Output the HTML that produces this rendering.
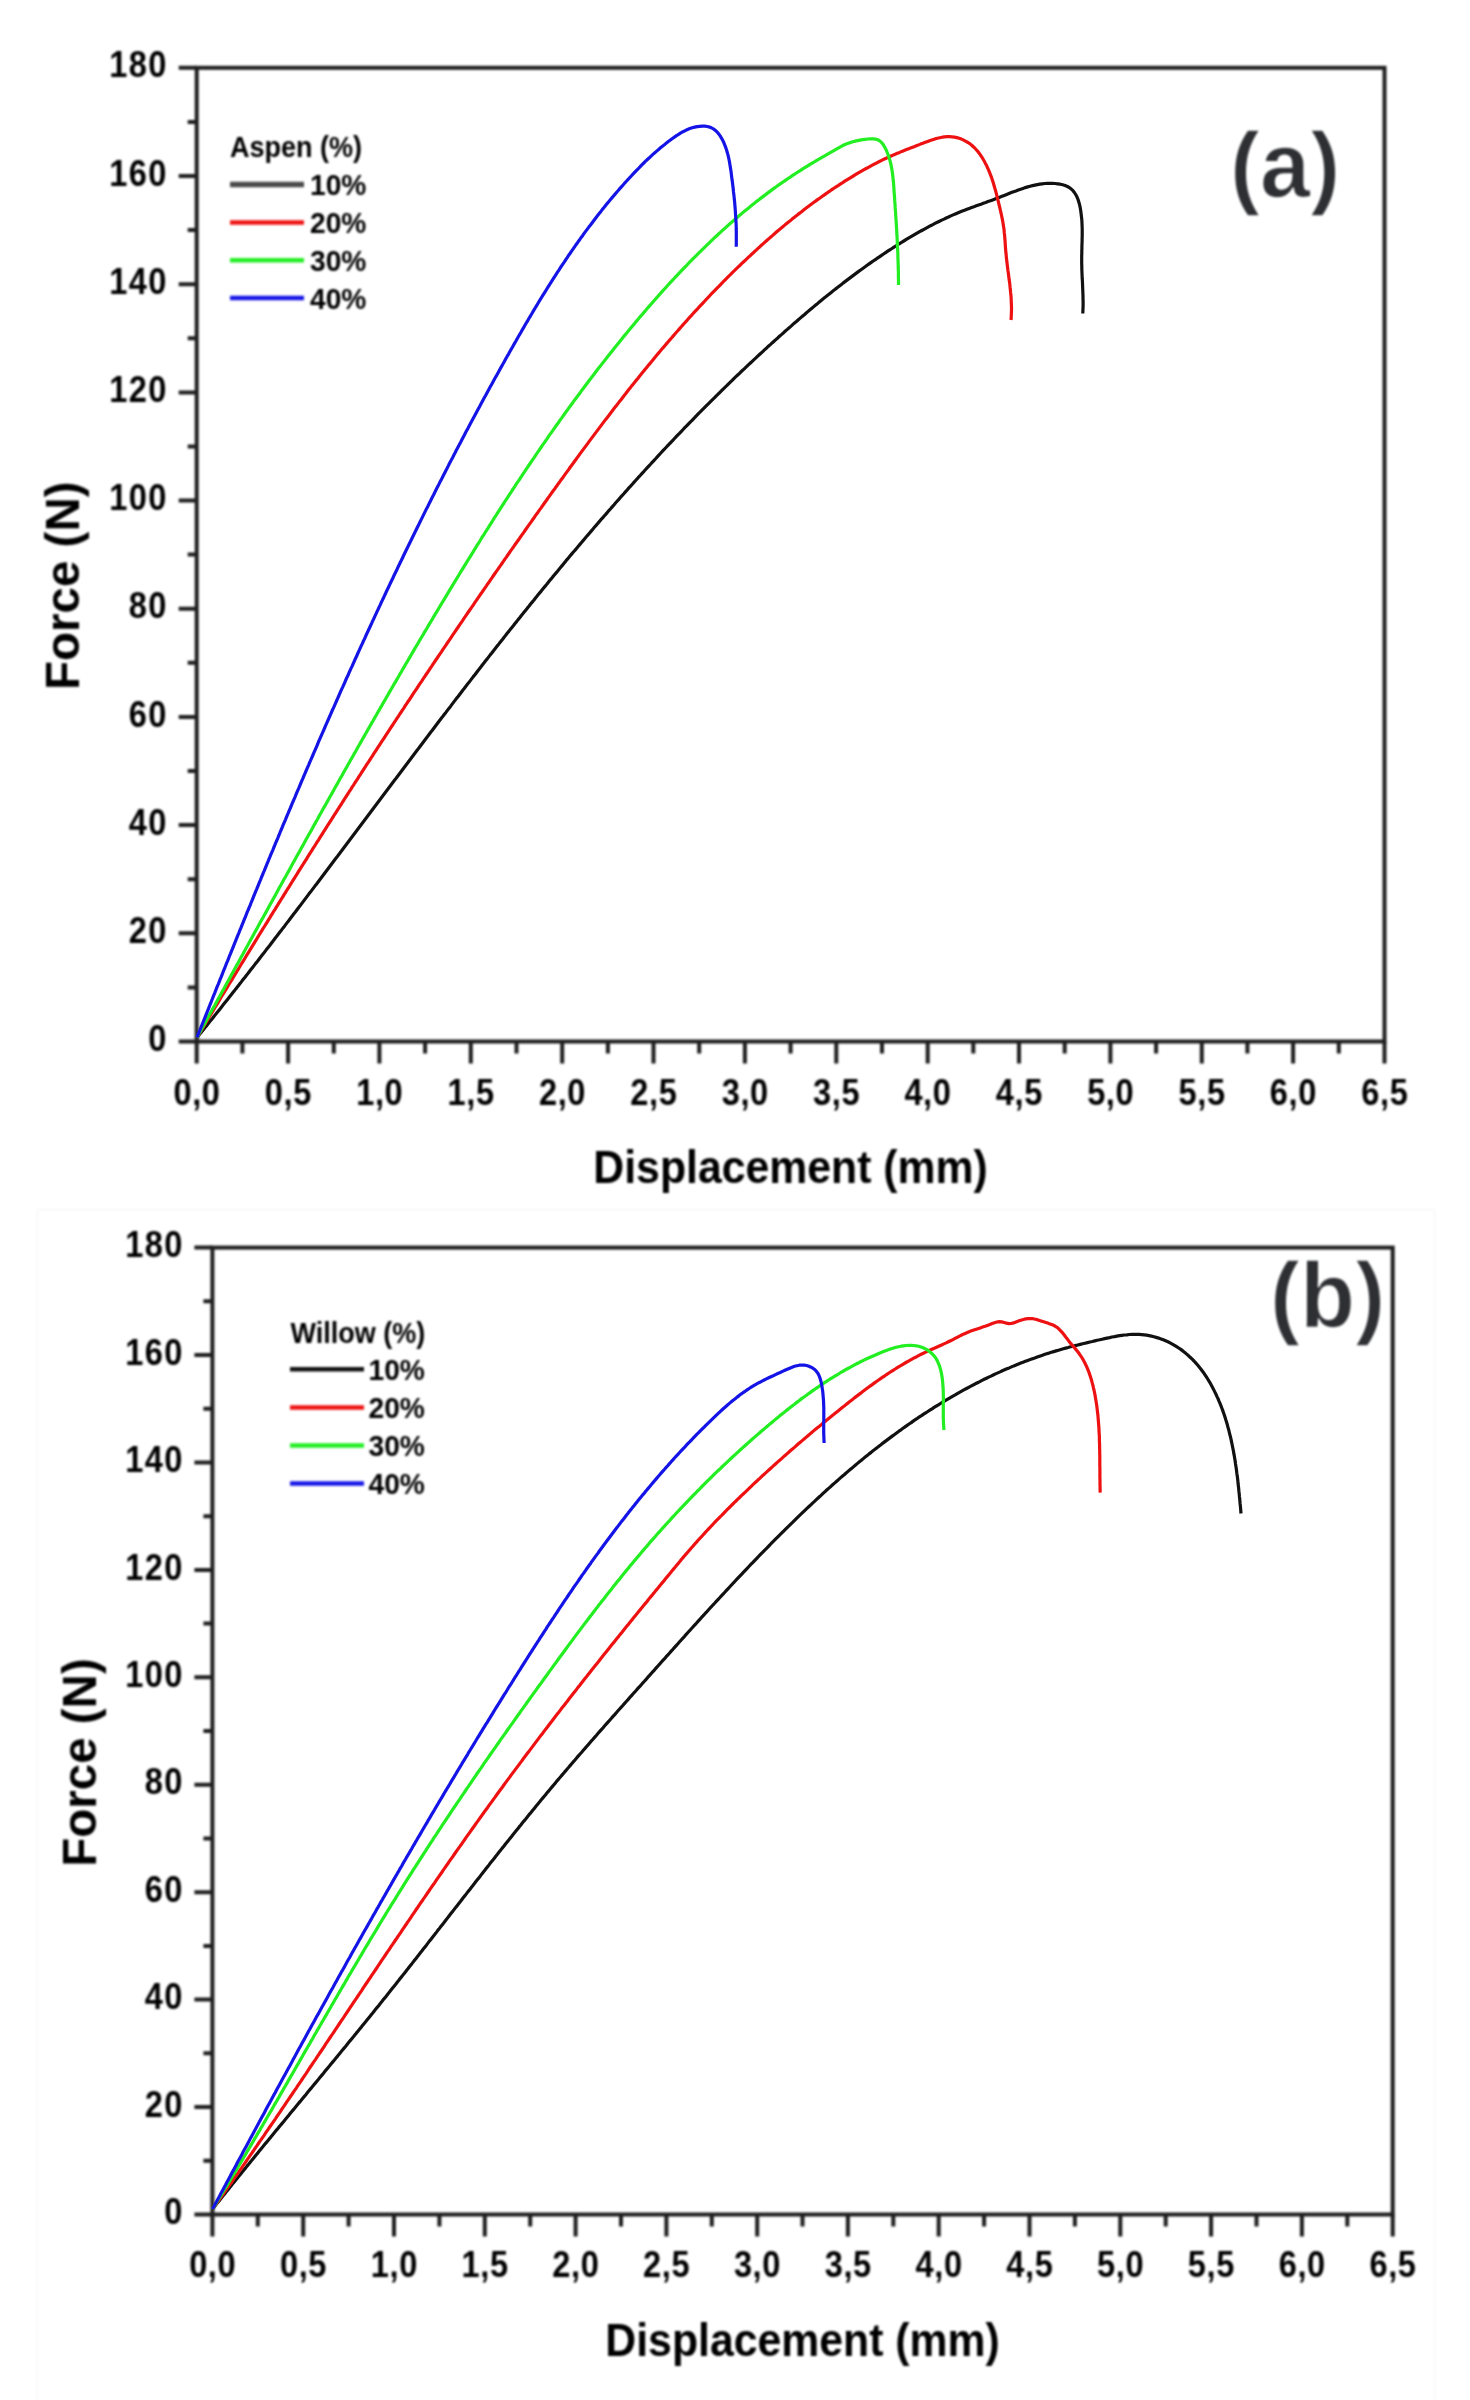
<!DOCTYPE html>
<html><head><meta charset="utf-8"><style>
html,body{margin:0;padding:0;background:#fff;}
body{width:1470px;height:2400px;overflow:hidden;position:relative;font-family:"Liberation Sans", sans-serif;}
svg{position:absolute;left:0;top:0;}
</style></head><body>
<svg width="1470" height="2400" viewBox="0 0 1470 2400" xmlns="http://www.w3.org/2000/svg" font-family='"Liberation Sans", sans-serif'>
<defs><filter id="soft" color-interpolation-filters="sRGB" x="0" y="0" width="1470" height="2400" filterUnits="userSpaceOnUse"><feGaussianBlur stdDeviation="0.8"/></filter></defs>
<g filter="url(#soft)">
<rect x="0" y="0" width="1470" height="2400" fill="#fff"/>
<rect x="37.5" y="1209.5" width="1397" height="1200" fill="none" stroke="#f4f4f4" stroke-width="1"/>
<rect x="196.7" y="67.8" width="1187.8" height="973.7" fill="none" stroke="#1e1e1e" stroke-width="4.0"/>
<path d="M178.7,1041.5H196.7M187.7,987.4H196.7M178.7,933.3H196.7M187.7,879.2H196.7M178.7,825.1H196.7M187.7,771.0H196.7M178.7,716.9H196.7M187.7,662.8H196.7M178.7,608.7H196.7M187.7,554.6H196.7M178.7,500.6H196.7M187.7,446.5H196.7M178.7,392.4H196.7M187.7,338.3H196.7M178.7,284.2H196.7M187.7,230.1H196.7M178.7,176.0H196.7M187.7,121.9H196.7M178.7,67.8H196.7M196.7,1041.5V1063.5M242.4,1041.5V1053.5M288.1,1041.5V1063.5M333.8,1041.5V1053.5M379.4,1041.5V1063.5M425.1,1041.5V1053.5M470.8,1041.5V1063.5M516.5,1041.5V1053.5M562.2,1041.5V1063.5M607.9,1041.5V1053.5M653.5,1041.5V1063.5M699.2,1041.5V1053.5M744.9,1041.5V1063.5M790.6,1041.5V1053.5M836.3,1041.5V1063.5M882.0,1041.5V1053.5M927.7,1041.5V1063.5M973.3,1041.5V1053.5M1019.0,1041.5V1063.5M1064.7,1041.5V1053.5M1110.4,1041.5V1063.5M1156.1,1041.5V1053.5M1201.8,1041.5V1063.5M1247.4,1041.5V1053.5M1293.1,1041.5V1063.5M1338.8,1041.5V1053.5M1384.5,1041.5V1063.5" stroke="#1e1e1e" stroke-width="4.0" fill="none"/>
<g font-size="37" font-weight="bold" fill="#000"><text transform="translate(157.27,1051.10) scale(0.88,1)" text-anchor="middle">0</text><text transform="translate(137.81,942.91) scale(0.88,1)" text-anchor="middle">2</text><text transform="translate(157.27,942.91) scale(0.88,1)" text-anchor="middle">0</text><text transform="translate(137.81,834.72) scale(0.88,1)" text-anchor="middle">4</text><text transform="translate(157.27,834.72) scale(0.88,1)" text-anchor="middle">0</text><text transform="translate(137.81,726.53) scale(0.88,1)" text-anchor="middle">6</text><text transform="translate(157.27,726.53) scale(0.88,1)" text-anchor="middle">0</text><text transform="translate(137.81,618.34) scale(0.88,1)" text-anchor="middle">8</text><text transform="translate(157.27,618.34) scale(0.88,1)" text-anchor="middle">0</text><text transform="translate(118.35,510.16) scale(0.88,1)" text-anchor="middle">1</text><text transform="translate(137.81,510.16) scale(0.88,1)" text-anchor="middle">0</text><text transform="translate(157.27,510.16) scale(0.88,1)" text-anchor="middle">0</text><text transform="translate(118.35,401.97) scale(0.88,1)" text-anchor="middle">1</text><text transform="translate(137.81,401.97) scale(0.88,1)" text-anchor="middle">2</text><text transform="translate(157.27,401.97) scale(0.88,1)" text-anchor="middle">0</text><text transform="translate(118.35,293.78) scale(0.88,1)" text-anchor="middle">1</text><text transform="translate(137.81,293.78) scale(0.88,1)" text-anchor="middle">4</text><text transform="translate(157.27,293.78) scale(0.88,1)" text-anchor="middle">0</text><text transform="translate(118.35,185.59) scale(0.88,1)" text-anchor="middle">1</text><text transform="translate(137.81,185.59) scale(0.88,1)" text-anchor="middle">6</text><text transform="translate(157.27,185.59) scale(0.88,1)" text-anchor="middle">0</text><text transform="translate(118.35,77.40) scale(0.88,1)" text-anchor="middle">1</text><text transform="translate(137.81,77.40) scale(0.88,1)" text-anchor="middle">8</text><text transform="translate(157.27,77.40) scale(0.88,1)" text-anchor="middle">0</text><text transform="translate(182.49,1105.00) scale(0.88,1)" text-anchor="middle">0</text><text transform="translate(196.70,1105.00) scale(0.88,1)" text-anchor="middle">,</text><text transform="translate(210.91,1105.00) scale(0.88,1)" text-anchor="middle">0</text><text transform="translate(273.86,1105.00) scale(0.88,1)" text-anchor="middle">0</text><text transform="translate(288.07,1105.00) scale(0.88,1)" text-anchor="middle">,</text><text transform="translate(302.28,1105.00) scale(0.88,1)" text-anchor="middle">5</text><text transform="translate(365.23,1105.00) scale(0.88,1)" text-anchor="middle">1</text><text transform="translate(379.44,1105.00) scale(0.88,1)" text-anchor="middle">,</text><text transform="translate(393.64,1105.00) scale(0.88,1)" text-anchor="middle">0</text><text transform="translate(456.60,1105.00) scale(0.88,1)" text-anchor="middle">1</text><text transform="translate(470.81,1105.00) scale(0.88,1)" text-anchor="middle">,</text><text transform="translate(485.01,1105.00) scale(0.88,1)" text-anchor="middle">5</text><text transform="translate(547.97,1105.00) scale(0.88,1)" text-anchor="middle">2</text><text transform="translate(562.18,1105.00) scale(0.88,1)" text-anchor="middle">,</text><text transform="translate(576.38,1105.00) scale(0.88,1)" text-anchor="middle">0</text><text transform="translate(639.34,1105.00) scale(0.88,1)" text-anchor="middle">2</text><text transform="translate(653.55,1105.00) scale(0.88,1)" text-anchor="middle">,</text><text transform="translate(667.75,1105.00) scale(0.88,1)" text-anchor="middle">5</text><text transform="translate(730.71,1105.00) scale(0.88,1)" text-anchor="middle">3</text><text transform="translate(744.92,1105.00) scale(0.88,1)" text-anchor="middle">,</text><text transform="translate(759.12,1105.00) scale(0.88,1)" text-anchor="middle">0</text><text transform="translate(822.08,1105.00) scale(0.88,1)" text-anchor="middle">3</text><text transform="translate(836.28,1105.00) scale(0.88,1)" text-anchor="middle">,</text><text transform="translate(850.49,1105.00) scale(0.88,1)" text-anchor="middle">5</text><text transform="translate(913.45,1105.00) scale(0.88,1)" text-anchor="middle">4</text><text transform="translate(927.65,1105.00) scale(0.88,1)" text-anchor="middle">,</text><text transform="translate(941.86,1105.00) scale(0.88,1)" text-anchor="middle">0</text><text transform="translate(1004.82,1105.00) scale(0.88,1)" text-anchor="middle">4</text><text transform="translate(1019.02,1105.00) scale(0.88,1)" text-anchor="middle">,</text><text transform="translate(1033.23,1105.00) scale(0.88,1)" text-anchor="middle">5</text><text transform="translate(1096.19,1105.00) scale(0.88,1)" text-anchor="middle">5</text><text transform="translate(1110.39,1105.00) scale(0.88,1)" text-anchor="middle">,</text><text transform="translate(1124.60,1105.00) scale(0.88,1)" text-anchor="middle">0</text><text transform="translate(1187.56,1105.00) scale(0.88,1)" text-anchor="middle">5</text><text transform="translate(1201.76,1105.00) scale(0.88,1)" text-anchor="middle">,</text><text transform="translate(1215.97,1105.00) scale(0.88,1)" text-anchor="middle">5</text><text transform="translate(1278.92,1105.00) scale(0.88,1)" text-anchor="middle">6</text><text transform="translate(1293.13,1105.00) scale(0.88,1)" text-anchor="middle">,</text><text transform="translate(1307.34,1105.00) scale(0.88,1)" text-anchor="middle">0</text><text transform="translate(1370.29,1105.00) scale(0.88,1)" text-anchor="middle">6</text><text transform="translate(1384.50,1105.00) scale(0.88,1)" text-anchor="middle">,</text><text transform="translate(1398.71,1105.00) scale(0.88,1)" text-anchor="middle">5</text></g>
<text transform="translate(790.6,1183) scale(0.93,1)" text-anchor="middle" font-size="46" font-weight="bold" fill="#000" >Displacement (mm)</text>
<text transform="translate(78.5,585.7) rotate(-90) scale(1.0,1)" text-anchor="middle" font-size="47.5" font-weight="bold" fill="#000" >Force (N)</text>
<line x1="230" y1="184.6" x2="304" y2="184.6" stroke="#4a4a4a" stroke-width="5.5"/>
<text transform="translate(310,195.1) scale(0.955,1)" font-size="29.5" font-weight="bold" fill="#000" >10%</text>
<line x1="230" y1="222.4" x2="304" y2="222.4" stroke="#ee1111" stroke-width="4.5"/>
<text transform="translate(310,232.9) scale(0.955,1)" font-size="29.5" font-weight="bold" fill="#000" >20%</text>
<line x1="230" y1="260.2" x2="304" y2="260.2" stroke="#22ee22" stroke-width="4.5"/>
<text transform="translate(310,270.7) scale(0.955,1)" font-size="29.5" font-weight="bold" fill="#000" >30%</text>
<line x1="230" y1="298.0" x2="304" y2="298.0" stroke="#1414e6" stroke-width="4.5"/>
<text transform="translate(310,308.5) scale(0.955,1)" font-size="29.5" font-weight="bold" fill="#000" >40%</text>
<text transform="translate(230,157) scale(0.915,1)" font-size="29.5" font-weight="bold" fill="#000" >Aspen (%)</text>
<text transform="translate(1230,197) scale(0.97,1)" font-size="93" font-weight="bold" fill="#2e2f33" stroke="#fff" stroke-width="1.4">(a)</text>
<rect x="212.4" y="1247.6" width="1180.3" height="966.9" fill="none" stroke="#1e1e1e" stroke-width="4.0"/>
<path d="M194.4,2214.5H212.4M203.4,2160.8H212.4M194.4,2107.1H212.4M203.4,2053.3H212.4M194.4,1999.6H212.4M203.4,1945.9H212.4M194.4,1892.2H212.4M203.4,1838.5H212.4M194.4,1784.8H212.4M203.4,1731.0H212.4M194.4,1677.3H212.4M203.4,1623.6H212.4M194.4,1569.9H212.4M203.4,1516.2H212.4M194.4,1462.5H212.4M203.4,1408.8H212.4M194.4,1355.0H212.4M203.4,1301.3H212.4M194.4,1247.6H212.4M212.4,2214.5V2236.5M257.8,2214.5V2226.5M303.2,2214.5V2236.5M348.6,2214.5V2226.5M394.0,2214.5V2236.5M439.4,2214.5V2226.5M484.8,2214.5V2236.5M530.2,2214.5V2226.5M575.6,2214.5V2236.5M621.0,2214.5V2226.5M666.4,2214.5V2236.5M711.8,2214.5V2226.5M757.2,2214.5V2236.5M802.5,2214.5V2226.5M847.9,2214.5V2236.5M893.3,2214.5V2226.5M938.7,2214.5V2236.5M984.1,2214.5V2226.5M1029.5,2214.5V2236.5M1074.9,2214.5V2226.5M1120.3,2214.5V2236.5M1165.7,2214.5V2226.5M1211.1,2214.5V2236.5M1256.5,2214.5V2226.5M1301.9,2214.5V2236.5M1347.3,2214.5V2226.5M1392.7,2214.5V2236.5" stroke="#1e1e1e" stroke-width="4.0" fill="none"/>
<g font-size="37" font-weight="bold" fill="#000"><text transform="translate(173.27,2224.10) scale(0.88,1)" text-anchor="middle">0</text><text transform="translate(153.81,2116.67) scale(0.88,1)" text-anchor="middle">2</text><text transform="translate(173.27,2116.67) scale(0.88,1)" text-anchor="middle">0</text><text transform="translate(153.81,2009.23) scale(0.88,1)" text-anchor="middle">4</text><text transform="translate(173.27,2009.23) scale(0.88,1)" text-anchor="middle">0</text><text transform="translate(153.81,1901.80) scale(0.88,1)" text-anchor="middle">6</text><text transform="translate(173.27,1901.80) scale(0.88,1)" text-anchor="middle">0</text><text transform="translate(153.81,1794.37) scale(0.88,1)" text-anchor="middle">8</text><text transform="translate(173.27,1794.37) scale(0.88,1)" text-anchor="middle">0</text><text transform="translate(134.35,1686.93) scale(0.88,1)" text-anchor="middle">1</text><text transform="translate(153.81,1686.93) scale(0.88,1)" text-anchor="middle">0</text><text transform="translate(173.27,1686.93) scale(0.88,1)" text-anchor="middle">0</text><text transform="translate(134.35,1579.50) scale(0.88,1)" text-anchor="middle">1</text><text transform="translate(153.81,1579.50) scale(0.88,1)" text-anchor="middle">2</text><text transform="translate(173.27,1579.50) scale(0.88,1)" text-anchor="middle">0</text><text transform="translate(134.35,1472.07) scale(0.88,1)" text-anchor="middle">1</text><text transform="translate(153.81,1472.07) scale(0.88,1)" text-anchor="middle">4</text><text transform="translate(173.27,1472.07) scale(0.88,1)" text-anchor="middle">0</text><text transform="translate(134.35,1364.63) scale(0.88,1)" text-anchor="middle">1</text><text transform="translate(153.81,1364.63) scale(0.88,1)" text-anchor="middle">6</text><text transform="translate(173.27,1364.63) scale(0.88,1)" text-anchor="middle">0</text><text transform="translate(134.35,1257.20) scale(0.88,1)" text-anchor="middle">1</text><text transform="translate(153.81,1257.20) scale(0.88,1)" text-anchor="middle">8</text><text transform="translate(173.27,1257.20) scale(0.88,1)" text-anchor="middle">0</text><text transform="translate(198.19,2277.00) scale(0.88,1)" text-anchor="middle">0</text><text transform="translate(212.40,2277.00) scale(0.88,1)" text-anchor="middle">,</text><text transform="translate(226.61,2277.00) scale(0.88,1)" text-anchor="middle">0</text><text transform="translate(288.99,2277.00) scale(0.88,1)" text-anchor="middle">0</text><text transform="translate(303.19,2277.00) scale(0.88,1)" text-anchor="middle">,</text><text transform="translate(317.40,2277.00) scale(0.88,1)" text-anchor="middle">5</text><text transform="translate(379.78,2277.00) scale(0.88,1)" text-anchor="middle">1</text><text transform="translate(393.98,2277.00) scale(0.88,1)" text-anchor="middle">,</text><text transform="translate(408.19,2277.00) scale(0.88,1)" text-anchor="middle">0</text><text transform="translate(470.57,2277.00) scale(0.88,1)" text-anchor="middle">1</text><text transform="translate(484.78,2277.00) scale(0.88,1)" text-anchor="middle">,</text><text transform="translate(498.98,2277.00) scale(0.88,1)" text-anchor="middle">5</text><text transform="translate(561.36,2277.00) scale(0.88,1)" text-anchor="middle">2</text><text transform="translate(575.57,2277.00) scale(0.88,1)" text-anchor="middle">,</text><text transform="translate(589.78,2277.00) scale(0.88,1)" text-anchor="middle">0</text><text transform="translate(652.16,2277.00) scale(0.88,1)" text-anchor="middle">2</text><text transform="translate(666.36,2277.00) scale(0.88,1)" text-anchor="middle">,</text><text transform="translate(680.57,2277.00) scale(0.88,1)" text-anchor="middle">5</text><text transform="translate(742.95,2277.00) scale(0.88,1)" text-anchor="middle">3</text><text transform="translate(757.15,2277.00) scale(0.88,1)" text-anchor="middle">,</text><text transform="translate(771.36,2277.00) scale(0.88,1)" text-anchor="middle">0</text><text transform="translate(833.74,2277.00) scale(0.88,1)" text-anchor="middle">3</text><text transform="translate(847.95,2277.00) scale(0.88,1)" text-anchor="middle">,</text><text transform="translate(862.15,2277.00) scale(0.88,1)" text-anchor="middle">5</text><text transform="translate(924.53,2277.00) scale(0.88,1)" text-anchor="middle">4</text><text transform="translate(938.74,2277.00) scale(0.88,1)" text-anchor="middle">,</text><text transform="translate(952.94,2277.00) scale(0.88,1)" text-anchor="middle">0</text><text transform="translate(1015.32,2277.00) scale(0.88,1)" text-anchor="middle">4</text><text transform="translate(1029.53,2277.00) scale(0.88,1)" text-anchor="middle">,</text><text transform="translate(1043.74,2277.00) scale(0.88,1)" text-anchor="middle">5</text><text transform="translate(1106.12,2277.00) scale(0.88,1)" text-anchor="middle">5</text><text transform="translate(1120.32,2277.00) scale(0.88,1)" text-anchor="middle">,</text><text transform="translate(1134.53,2277.00) scale(0.88,1)" text-anchor="middle">0</text><text transform="translate(1196.91,2277.00) scale(0.88,1)" text-anchor="middle">5</text><text transform="translate(1211.12,2277.00) scale(0.88,1)" text-anchor="middle">,</text><text transform="translate(1225.32,2277.00) scale(0.88,1)" text-anchor="middle">5</text><text transform="translate(1287.70,2277.00) scale(0.88,1)" text-anchor="middle">6</text><text transform="translate(1301.91,2277.00) scale(0.88,1)" text-anchor="middle">,</text><text transform="translate(1316.11,2277.00) scale(0.88,1)" text-anchor="middle">0</text><text transform="translate(1378.49,2277.00) scale(0.88,1)" text-anchor="middle">6</text><text transform="translate(1392.70,2277.00) scale(0.88,1)" text-anchor="middle">,</text><text transform="translate(1406.91,2277.00) scale(0.88,1)" text-anchor="middle">5</text></g>
<text transform="translate(802.6,2356) scale(0.93,1)" text-anchor="middle" font-size="46" font-weight="bold" fill="#000" >Displacement (mm)</text>
<text transform="translate(95.5,1762.5) rotate(-90) scale(1.0,1)" text-anchor="middle" font-size="47.5" font-weight="bold" fill="#000" >Force (N)</text>
<line x1="290" y1="1369.3" x2="364" y2="1369.3" stroke="#111111" stroke-width="4.5"/>
<text transform="translate(368.5,1379.8) scale(0.955,1)" font-size="29.5" font-weight="bold" fill="#000" >10%</text>
<line x1="290" y1="1407.4" x2="364" y2="1407.4" stroke="#ee1111" stroke-width="4.5"/>
<text transform="translate(368.5,1417.9) scale(0.955,1)" font-size="29.5" font-weight="bold" fill="#000" >20%</text>
<line x1="290" y1="1445.5" x2="364" y2="1445.5" stroke="#22ee22" stroke-width="4.5"/>
<text transform="translate(368.5,1456.0) scale(0.955,1)" font-size="29.5" font-weight="bold" fill="#000" >30%</text>
<line x1="290" y1="1483.6" x2="364" y2="1483.6" stroke="#1414e6" stroke-width="4.5"/>
<text transform="translate(368.5,1494.1) scale(0.955,1)" font-size="29.5" font-weight="bold" fill="#000" >40%</text>
<text transform="translate(290.5,1342.6) scale(0.915,1)" font-size="29.5" font-weight="bold" fill="#000" >Willow (%)</text>
<text transform="translate(1270,1327) scale(0.97,1)" font-size="93" font-weight="bold" fill="#2e2f33" stroke="#fff" stroke-width="1.4">(b)</text>
</g>
<path d="M197.0,1037.5 L198.6,1035.6 L200.1,1033.6 L201.7,1031.7 L203.3,1029.8 L204.8,1027.8 L206.4,1025.9 L207.9,1024.0 L209.5,1022.0 L211.0,1020.1 L212.6,1018.2 L214.1,1016.2 L215.7,1014.3 L217.3,1012.3 L218.8,1010.4 L220.4,1008.4 L221.9,1006.5 L223.4,1004.6 L225.0,1002.6 L226.5,1000.7 L228.1,998.7 L229.6,996.8 L231.2,994.8 L232.7,992.8 L234.3,990.9 L235.8,988.9 L237.3,987.0 L238.9,985.0 L240.4,983.1 L241.9,981.1 L243.5,979.1 L245.0,977.2 L246.5,975.2 L248.1,973.3 L249.6,971.3 L251.1,969.3 L252.7,967.4 L254.2,965.4 L255.7,963.4 L257.3,961.5 L258.8,959.5 L260.3,957.5 L261.8,955.6 L263.4,953.6 L264.9,951.6 L266.4,949.6 L267.9,947.7 L269.5,945.7 L271.0,943.7 L272.5,941.7 L274.0,939.8 L275.5,937.8 L277.1,935.8 L278.6,933.8 L280.1,931.8 L281.6,929.9 L283.1,927.9 L284.7,925.9 L286.2,923.9 L287.7,921.9 L289.2,920.0 L290.7,918.0 L292.2,916.0 L293.7,914.0 L295.3,912.0 L296.8,910.0 L298.3,908.0 L299.8,906.1 L301.3,904.1 L302.8,902.1 L304.3,900.1 L305.8,898.1 L307.3,896.1 L308.8,894.1 L310.4,892.1 L311.9,890.1 L313.4,888.1 L314.9,886.1 L316.4,884.2 L317.9,882.2 L319.4,880.2 L320.9,878.2 L322.4,876.2 L323.9,874.2 L325.4,872.2 L326.9,870.2 L328.4,868.2 L329.9,866.2 L331.4,864.2 L332.9,862.2 L334.4,860.2 L335.9,858.2 L337.5,856.2 L339.0,854.2 L340.5,852.2 L342.0,850.2 L343.5,848.2 L345.0,846.2 L346.5,844.2 L348.0,842.2 L349.5,840.2 L351.0,838.2 L352.5,836.2 L354.0,834.2 L355.5,832.2 L357.0,830.2 L358.5,828.2 L360.0,826.2 L361.5,824.2 L363.0,822.2 L364.5,820.2 L366.0,818.2 L367.5,816.2 L369.0,814.2 L370.5,812.2 L372.0,810.2 L373.5,808.2 L375.0,806.2 L376.5,804.2 L378.0,802.2 L379.5,800.2 L381.0,798.2 L382.5,796.2 L384.0,794.2 L385.5,792.2 L387.0,790.2 L388.5,788.2 L390.0,786.2 L391.5,784.2 L393.0,782.2 L394.5,780.2 L396.1,778.2 L397.6,776.2 L399.1,774.2 L400.6,772.2 L402.1,770.2 L403.6,768.2 L405.1,766.2 L406.6,764.2 L408.1,762.2 L409.6,760.2 L411.1,758.2 L412.6,756.2 L414.1,754.2 L415.6,752.2 L417.1,750.2 L418.7,748.2 L420.2,746.2 L421.7,744.2 L423.2,742.2 L424.7,740.2 L426.2,738.2 L427.7,736.3 L429.2,734.3 L430.7,732.3 L432.3,730.3 L433.8,728.3 L435.3,726.3 L436.8,724.3 L438.3,722.3 L439.8,720.3 L441.3,718.3 L442.9,716.3 L444.4,714.3 L445.9,712.4 L447.4,710.4 L448.9,708.4 L450.5,706.4 L452.0,704.4 L453.5,702.4 L455.0,700.4 L456.5,698.4 L458.1,696.5 L459.6,694.5 L461.1,692.5 L462.6,690.5 L464.2,688.5 L465.7,686.5 L467.2,684.6 L468.8,682.6 L470.3,680.6 L471.8,678.6 L473.3,676.6 L474.9,674.7 L476.4,672.7 L477.9,670.7 L479.5,668.7 L481.0,666.8 L482.5,664.8 L484.1,662.8 L485.6,660.8 L487.2,658.9 L488.7,656.9 L490.2,654.9 L491.8,653.0 L493.3,651.0 L494.9,649.0 L496.4,647.1 L498.0,645.1 L499.5,643.1 L501.0,641.2 L502.6,639.2 L504.1,637.2 L505.7,635.3 L507.2,633.3 L508.8,631.4 L510.3,629.4 L511.9,627.5 L513.5,625.5 L515.0,623.5 L516.6,621.6 L518.1,619.6 L519.7,617.7 L521.2,615.7 L522.8,613.8 L524.4,611.8 L525.9,609.9 L527.5,607.9 L529.1,606.0 L530.6,604.0 L532.2,602.1 L533.8,600.2 L535.3,598.2 L536.9,596.3 L538.5,594.3 L540.1,592.4 L541.6,590.5 L543.2,588.5 L544.8,586.6 L546.4,584.7 L548.0,582.7 L549.5,580.8 L551.1,578.9 L552.7,576.9 L554.3,575.0 L555.9,573.1 L557.5,571.2 L559.1,569.2 L560.7,567.3 L562.3,565.4 L563.8,563.5 L565.4,561.6 L567.0,559.6 L568.6,557.7 L570.2,555.8 L571.8,553.9 L573.4,552.0 L575.1,550.1 L576.7,548.2 L578.3,546.3 L579.9,544.4 L581.5,542.5 L583.1,540.6 L584.7,538.7 L586.3,536.8 L588.0,534.9 L589.6,533.0 L591.2,531.1 L592.8,529.2 L594.4,527.3 L596.1,525.4 L597.7,523.5 L599.3,521.6 L600.9,519.7 L602.6,517.9 L604.2,516.0 L605.9,514.1 L607.5,512.2 L609.1,510.3 L610.8,508.5 L612.4,506.6 L614.1,504.7 L615.7,502.8 L617.3,501.0 L619.0,499.1 L620.6,497.2 L622.3,495.4 L624.0,493.5 L625.6,491.6 L627.3,489.8 L628.9,487.9 L630.6,486.1 L632.3,484.2 L633.9,482.4 L635.6,480.5 L637.3,478.7 L638.9,476.8 L640.6,475.0 L642.3,473.1 L644.0,471.3 L645.6,469.5 L647.3,467.6 L649.0,465.8 L650.7,464.0 L652.4,462.1 L654.1,460.3 L655.8,458.5 L657.5,456.6 L659.1,454.8 L660.8,453.0 L662.5,451.2 L664.2,449.4 L666.0,447.5 L667.7,445.7 L669.4,443.9 L671.1,442.1 L672.8,440.3 L674.5,438.5 L676.2,436.7 L677.9,434.9 L679.7,433.1 L681.4,431.3 L683.1,429.5 L684.8,427.7 L686.6,425.9 L688.3,424.1 L690.0,422.3 L691.8,420.6 L693.5,418.8 L695.2,417.0 L697.0,415.2 L698.7,413.4 L700.5,411.7 L702.2,409.9 L704.0,408.1 L705.7,406.4 L707.5,404.6 L709.3,402.8 L711.0,401.1 L712.8,399.3 L714.6,397.6 L716.3,395.8 L718.1,394.1 L719.9,392.3 L721.6,390.6 L723.4,388.8 L725.2,387.1 L727.0,385.4 L728.8,383.6 L730.6,381.9 L732.4,380.2 L734.1,378.4 L735.9,376.7 L737.7,375.0 L739.5,373.3 L741.3,371.5 L743.2,369.8 L745.0,368.1 L746.8,366.4 L748.6,364.7 L750.4,363.0 L752.2,361.3 L754.0,359.6 L755.9,357.9 L757.7,356.2 L759.5,354.5 L761.4,352.8 L763.2,351.1 L765.0,349.4 L766.9,347.7 L768.7,346.0 L770.6,344.4 L772.4,342.7 L774.3,341.0 L776.1,339.4 L778.0,337.7 L779.8,336.0 L781.7,334.4 L783.6,332.7 L785.4,331.0 L787.3,329.4 L789.2,327.7 L791.1,326.1 L792.9,324.4 L794.8,322.8 L796.7,321.2 L798.6,319.5 L800.5,317.9 L802.4,316.3 L804.3,314.7 L806.2,313.0 L808.1,311.4 L810.0,309.8 L811.9,308.2 L813.8,306.6 L815.7,305.0 L817.7,303.4 L819.6,301.8 L821.5,300.2 L823.5,298.6 L825.4,297.1 L827.3,295.5 L829.3,293.9 L831.2,292.4 L833.2,290.8 L835.2,289.3 L837.1,287.7 L839.1,286.2 L841.1,284.7 L843.0,283.1 L845.0,281.6 L847.0,280.1 L849.0,278.6 L851.0,277.1 L853.0,275.6 L855.0,274.1 L857.0,272.6 L859.0,271.1 L861.0,269.7 L863.1,268.2 L865.1,266.8 L867.1,265.3 L869.1,263.9 L871.2,262.4 L873.2,261.0 L875.3,259.6 L877.3,258.2 L879.4,256.8 L881.5,255.4 L883.5,254.0 L885.6,252.6 L887.7,251.2 L889.8,249.8 L891.9,248.5 L894.0,247.1 L896.1,245.8 L898.2,244.5 L900.3,243.1 L902.4,241.8 L904.6,240.5 L906.7,239.2 L908.9,237.9 L911.0,236.7 L913.2,235.4 L915.3,234.2 L917.5,232.9 L919.6,231.7 L921.8,230.5 L924.0,229.3 L926.2,228.1 L928.4,226.9 L930.6,225.7 L932.8,224.6 L935.0,223.4 L937.3,222.3 L939.5,221.2 L941.7,220.1 L944.0,219.1 L946.2,218.0 L948.5,217.0 L950.8,215.9 L953.1,214.9 L955.3,214.0 L957.6,213.0 L959.9,212.0 L962.3,211.1 L964.6,210.2 L966.9,209.3 L969.2,208.4 L971.6,207.5 L973.9,206.7 L976.3,205.8 L978.6,205.0 L981.0,204.2 L983.3,203.3 L985.7,202.5 L988.0,201.6 L990.4,200.8 L992.7,199.9 L995.0,199.0 L997.4,198.1 L999.7,197.2 L1002.0,196.3 L1004.3,195.4 L1006.6,194.5 L1009.0,193.5 L1011.3,192.6 L1013.6,191.7 L1015.9,190.9 L1018.3,190.0 L1020.6,189.2 L1023.0,188.4 L1025.3,187.6 L1027.7,186.9 L1030.1,186.2 L1032.5,185.6 L1034.9,185.1 L1037.4,184.6 L1039.8,184.1 L1042.3,183.8 L1044.8,183.5 L1047.3,183.4 L1049.8,183.3 L1052.4,183.4 L1055.0,183.5 L1057.6,183.8 L1060.2,184.2 L1062.7,184.8 L1065.1,185.5 L1067.4,186.5 L1069.5,187.7 L1071.3,189.1 L1073.0,190.7 L1074.4,192.5 L1075.7,194.5 L1076.8,196.6 L1077.8,198.9 L1078.6,201.2 L1079.3,203.7 L1079.9,206.1 L1080.4,208.7 L1080.8,211.2 L1081.1,213.7 L1081.4,216.2 L1081.7,218.7 L1081.9,221.2 L1082.0,223.7 L1082.1,226.2 L1082.2,228.7 L1082.2,231.2 L1082.2,233.7 L1082.2,236.2 L1082.1,238.7 L1082.1,241.2 L1082.0,243.7 L1081.9,246.1 L1081.9,248.6 L1081.8,251.1 L1081.8,253.6 L1081.7,256.1 L1081.7,258.6 L1081.7,261.1 L1081.7,263.6 L1081.8,266.0 L1081.8,268.5 L1081.9,271.0 L1082.0,273.5 L1082.1,276.0 L1082.2,278.5 L1082.4,281.0 L1082.5,283.5 L1082.6,286.0 L1082.7,288.5 L1082.8,291.0 L1082.9,293.5 L1083.0,296.0 L1083.0,298.5 L1083.1,301.0 L1083.1,303.5 L1083.1,306.0 L1083.0,308.5 L1082.9,311.0 L1082.8,313.5" stroke="#111111" stroke-width="3.2" fill="none" stroke-linejoin="round"/>
<path d="M197.0,1037.5 L198.3,1035.4 L199.6,1033.2 L200.8,1031.1 L202.1,1028.9 L203.4,1026.8 L204.7,1024.6 L206.0,1022.5 L207.3,1020.4 L208.5,1018.2 L209.8,1016.1 L211.1,1013.9 L212.4,1011.8 L213.7,1009.7 L215.0,1007.5 L216.3,1005.4 L217.6,1003.3 L218.9,1001.1 L220.1,999.0 L221.4,996.8 L222.7,994.7 L224.0,992.6 L225.3,990.4 L226.6,988.3 L227.9,986.2 L229.2,984.0 L230.5,981.9 L231.8,979.8 L233.1,977.6 L234.4,975.5 L235.7,973.4 L237.0,971.2 L238.3,969.1 L239.6,967.0 L240.9,964.8 L242.2,962.7 L243.5,960.6 L244.8,958.5 L246.1,956.3 L247.4,954.2 L248.7,952.1 L250.0,949.9 L251.3,947.8 L252.6,945.7 L253.9,943.6 L255.2,941.4 L256.5,939.3 L257.8,937.2 L259.1,935.0 L260.4,932.9 L261.7,930.8 L263.0,928.7 L264.4,926.5 L265.7,924.4 L267.0,922.3 L268.3,920.2 L269.6,918.1 L270.9,915.9 L272.2,913.8 L273.5,911.7 L274.9,909.6 L276.2,907.4 L277.5,905.3 L278.8,903.2 L280.1,901.1 L281.4,899.0 L282.8,896.8 L284.1,894.7 L285.4,892.6 L286.7,890.5 L288.0,888.4 L289.4,886.3 L290.7,884.1 L292.0,882.0 L293.3,879.9 L294.6,877.8 L296.0,875.7 L297.3,873.6 L298.6,871.4 L299.9,869.3 L301.3,867.2 L302.6,865.1 L303.9,863.0 L305.3,860.9 L306.6,858.8 L307.9,856.7 L309.2,854.5 L310.6,852.4 L311.9,850.3 L313.2,848.2 L314.6,846.1 L315.9,844.0 L317.2,841.9 L318.6,839.8 L319.9,837.7 L321.2,835.6 L322.6,833.5 L323.9,831.3 L325.3,829.2 L326.6,827.1 L327.9,825.0 L329.3,822.9 L330.6,820.8 L332.0,818.7 L333.3,816.6 L334.6,814.5 L336.0,812.4 L337.3,810.3 L338.7,808.2 L340.0,806.1 L341.4,804.0 L342.7,801.9 L344.0,799.8 L345.4,797.7 L346.7,795.6 L348.1,793.5 L349.4,791.4 L350.8,789.3 L352.1,787.2 L353.5,785.1 L354.8,783.0 L356.2,780.9 L357.6,778.8 L358.9,776.7 L360.3,774.6 L361.6,772.5 L363.0,770.4 L364.3,768.3 L365.7,766.2 L367.0,764.1 L368.4,762.1 L369.8,760.0 L371.1,757.9 L372.5,755.8 L373.8,753.7 L375.2,751.6 L376.6,749.5 L377.9,747.4 L379.3,745.3 L380.7,743.2 L382.0,741.1 L383.4,739.1 L384.8,737.0 L386.1,734.9 L387.5,732.8 L388.9,730.7 L390.2,728.6 L391.6,726.5 L393.0,724.5 L394.3,722.4 L395.7,720.3 L397.1,718.2 L398.5,716.1 L399.8,714.0 L401.2,712.0 L402.6,709.9 L404.0,707.8 L405.3,705.7 L406.7,703.6 L408.1,701.5 L409.5,699.5 L410.9,697.4 L412.2,695.3 L413.6,693.2 L415.0,691.2 L416.4,689.1 L417.8,687.0 L419.1,684.9 L420.5,682.8 L421.9,680.8 L423.3,678.7 L424.7,676.6 L426.1,674.5 L427.5,672.5 L428.9,670.4 L430.2,668.3 L431.6,666.3 L433.0,664.2 L434.4,662.1 L435.8,660.0 L437.2,658.0 L438.6,655.9 L440.0,653.8 L441.4,651.8 L442.8,649.7 L444.2,647.6 L445.6,645.6 L447.0,643.5 L448.4,641.4 L449.8,639.4 L451.2,637.3 L452.6,635.2 L454.0,633.2 L455.4,631.1 L456.8,629.0 L458.2,627.0 L459.6,624.9 L461.0,622.8 L462.4,620.8 L463.8,618.7 L465.2,616.7 L466.6,614.6 L468.0,612.5 L469.4,610.5 L470.9,608.4 L472.3,606.4 L473.7,604.3 L475.1,602.2 L476.5,600.2 L477.9,598.1 L479.3,596.1 L480.7,594.0 L482.2,592.0 L483.6,589.9 L485.0,587.8 L486.4,585.8 L487.8,583.7 L489.3,581.7 L490.7,579.6 L492.1,577.6 L493.5,575.5 L494.9,573.5 L496.4,571.4 L497.8,569.4 L499.2,567.3 L500.6,565.3 L502.1,563.2 L503.5,561.2 L504.9,559.1 L506.4,557.1 L507.8,555.0 L509.2,553.0 L510.6,550.9 L512.1,548.9 L513.5,546.9 L514.9,544.8 L516.4,542.8 L517.8,540.7 L519.3,538.7 L520.7,536.6 L522.1,534.6 L523.6,532.6 L525.0,530.5 L526.4,528.5 L527.9,526.4 L529.3,524.4 L530.8,522.4 L532.2,520.3 L533.7,518.3 L535.1,516.2 L536.5,514.2 L538.0,512.2 L539.4,510.1 L540.9,508.1 L542.3,506.1 L543.8,504.0 L545.2,502.0 L546.7,500.0 L548.1,497.9 L549.6,495.9 L551.0,493.9 L552.5,491.8 L554.0,489.8 L555.4,487.8 L556.9,485.8 L558.3,483.7 L559.8,481.7 L561.2,479.7 L562.7,477.7 L564.2,475.6 L565.6,473.6 L567.1,471.6 L568.6,469.6 L570.0,467.5 L571.5,465.5 L573.0,463.5 L574.4,461.5 L575.9,459.5 L577.4,457.4 L578.9,455.4 L580.3,453.4 L581.8,451.4 L583.3,449.4 L584.8,447.4 L586.3,445.4 L587.8,443.4 L589.2,441.4 L590.7,439.4 L592.2,437.4 L593.7,435.4 L595.2,433.4 L596.7,431.4 L598.2,429.4 L599.7,427.4 L601.2,425.4 L602.7,423.4 L604.2,421.4 L605.7,419.4 L607.3,417.4 L608.8,415.5 L610.3,413.5 L611.8,411.5 L613.3,409.5 L614.8,407.5 L616.4,405.6 L617.9,403.6 L619.4,401.6 L621.0,399.7 L622.5,397.7 L624.0,395.7 L625.6,393.8 L627.1,391.8 L628.6,389.8 L630.2,387.9 L631.7,385.9 L633.3,384.0 L634.9,382.0 L636.4,380.1 L638.0,378.2 L639.5,376.2 L641.1,374.3 L642.7,372.3 L644.2,370.4 L645.8,368.5 L647.4,366.6 L649.0,364.6 L650.6,362.7 L652.2,360.8 L653.7,358.9 L655.3,357.0 L656.9,355.0 L658.5,353.1 L660.1,351.2 L661.7,349.3 L663.4,347.4 L665.0,345.5 L666.6,343.6 L668.2,341.7 L669.8,339.9 L671.5,338.0 L673.1,336.1 L674.7,334.2 L676.4,332.3 L678.0,330.5 L679.6,328.6 L681.3,326.7 L682.9,324.9 L684.6,323.0 L686.3,321.2 L687.9,319.3 L689.6,317.4 L691.3,315.6 L692.9,313.8 L694.6,311.9 L696.3,310.1 L698.0,308.3 L699.7,306.4 L701.4,304.6 L703.1,302.8 L704.8,301.0 L706.5,299.2 L708.2,297.3 L709.9,295.5 L711.6,293.7 L713.4,291.9 L715.1,290.2 L716.8,288.4 L718.6,286.6 L720.3,284.8 L722.1,283.0 L723.8,281.2 L725.6,279.5 L727.3,277.7 L729.1,275.9 L730.9,274.2 L732.6,272.4 L734.4,270.7 L736.2,268.9 L738.0,267.2 L739.8,265.5 L741.6,263.7 L743.4,262.0 L745.2,260.3 L747.0,258.6 L748.8,256.9 L750.7,255.2 L752.5,253.5 L754.3,251.8 L756.2,250.1 L758.0,248.4 L759.9,246.7 L761.7,245.0 L763.6,243.4 L765.4,241.7 L767.3,240.0 L769.2,238.4 L771.1,236.7 L773.0,235.1 L774.8,233.5 L776.7,231.8 L778.6,230.2 L780.6,228.6 L782.5,227.0 L784.4,225.4 L786.3,223.8 L788.2,222.2 L790.2,220.7 L792.1,219.1 L794.1,217.5 L796.0,216.0 L798.0,214.4 L800.0,212.9 L801.9,211.4 L803.9,209.8 L805.9,208.3 L807.9,206.8 L809.9,205.3 L811.9,203.8 L813.9,202.3 L815.9,200.9 L817.9,199.4 L820.0,198.0 L822.0,196.5 L824.0,195.1 L826.1,193.6 L828.1,192.2 L830.2,190.8 L832.2,189.4 L834.3,188.0 L836.4,186.6 L838.5,185.3 L840.6,183.9 L842.7,182.6 L844.8,181.2 L846.9,179.9 L849.0,178.6 L851.1,177.3 L853.3,176.0 L855.4,174.7 L857.5,173.4 L859.7,172.1 L861.9,170.9 L864.0,169.7 L866.2,168.5 L868.4,167.3 L870.6,166.1 L872.8,164.9 L875.0,163.8 L877.2,162.6 L879.4,161.5 L881.6,160.4 L883.8,159.3 L886.1,158.3 L888.3,157.2 L890.5,156.2 L892.8,155.2 L895.1,154.3 L897.3,153.3 L899.6,152.4 L901.9,151.4 L904.2,150.5 L906.5,149.6 L908.8,148.7 L911.1,147.8 L913.5,146.9 L915.8,146.0 L918.2,145.1 L920.5,144.1 L922.9,143.2 L925.3,142.3 L927.7,141.4 L930.1,140.5 L932.5,139.7 L935.0,138.9 L937.4,138.3 L939.8,137.7 L942.3,137.2 L944.7,136.9 L947.1,136.7 L949.5,136.7 L952.0,136.8 L954.4,137.1 L956.8,137.6 L959.1,138.3 L961.4,139.1 L963.7,140.1 L965.9,141.3 L968.0,142.5 L970.1,143.9 L972.0,145.5 L973.9,147.2 L975.6,149.0 L977.3,150.8 L978.8,152.8 L980.3,154.8 L981.7,156.9 L983.0,159.0 L984.3,161.2 L985.4,163.4 L986.6,165.6 L987.6,167.9 L988.6,170.2 L989.6,172.5 L990.5,174.8 L991.4,177.1 L992.2,179.5 L993.0,181.9 L993.7,184.3 L994.4,186.7 L995.1,189.1 L995.8,191.5 L996.4,193.9 L997.0,196.4 L997.6,198.8 L998.2,201.2 L998.8,203.7 L999.4,206.1 L1000.0,208.5 L1000.5,210.9 L1001.1,213.3 L1001.6,215.8 L1002.1,218.2 L1002.6,220.6 L1003.0,223.0 L1003.4,225.5 L1003.8,227.9 L1004.1,230.4 L1004.3,232.9 L1004.6,235.4 L1004.8,237.9 L1005.0,240.3 L1005.2,242.8 L1005.3,245.3 L1005.5,247.8 L1005.7,250.3 L1005.9,252.8 L1006.2,255.3 L1006.4,257.8 L1006.7,260.3 L1007.0,262.8 L1007.3,265.3 L1007.6,267.8 L1007.9,270.2 L1008.3,272.7 L1008.6,275.2 L1008.9,277.7 L1009.2,280.1 L1009.6,282.6 L1009.9,285.1 L1010.1,287.5 L1010.4,290.0 L1010.6,292.5 L1010.9,295.0 L1011.1,297.5 L1011.2,300.0 L1011.3,302.4 L1011.4,304.9 L1011.5,307.4 L1011.5,309.9 L1011.4,312.4 L1011.3,315.0 L1011.2,317.5 L1011.0,320.0" stroke="#ee1111" stroke-width="3.2" fill="none" stroke-linejoin="round"/>
<path d="M197.0,1037.5 L198.2,1035.3 L199.4,1033.1 L200.6,1030.9 L201.8,1028.8 L203.0,1026.6 L204.2,1024.4 L205.4,1022.2 L206.6,1020.0 L207.8,1017.8 L209.0,1015.6 L210.2,1013.5 L211.4,1011.3 L212.6,1009.1 L213.9,1006.9 L215.1,1004.7 L216.3,1002.5 L217.5,1000.3 L218.7,998.1 L219.9,996.0 L221.1,993.8 L222.3,991.6 L223.5,989.4 L224.7,987.2 L225.9,985.0 L227.1,982.8 L228.3,980.7 L229.5,978.5 L230.7,976.3 L231.9,974.1 L233.1,971.9 L234.3,969.7 L235.5,967.5 L236.7,965.3 L237.9,963.2 L239.1,961.0 L240.3,958.8 L241.5,956.6 L242.7,954.4 L243.9,952.2 L245.1,950.0 L246.3,947.8 L247.5,945.7 L248.7,943.5 L249.9,941.3 L251.1,939.1 L252.3,936.9 L253.5,934.7 L254.7,932.5 L255.9,930.4 L257.1,928.2 L258.3,926.0 L259.5,923.8 L260.7,921.6 L261.9,919.4 L263.2,917.2 L264.4,915.0 L265.6,912.9 L266.8,910.7 L268.0,908.5 L269.2,906.3 L270.4,904.1 L271.6,901.9 L272.8,899.7 L274.0,897.6 L275.2,895.4 L276.4,893.2 L277.6,891.0 L278.8,888.8 L280.0,886.6 L281.2,884.5 L282.4,882.3 L283.6,880.1 L284.8,877.9 L286.1,875.7 L287.3,873.5 L288.5,871.4 L289.7,869.2 L290.9,867.0 L292.1,864.8 L293.3,862.6 L294.5,860.4 L295.7,858.3 L296.9,856.1 L298.1,853.9 L299.4,851.7 L300.6,849.5 L301.8,847.3 L303.0,845.2 L304.2,843.0 L305.4,840.8 L306.6,838.6 L307.8,836.4 L309.0,834.3 L310.3,832.1 L311.5,829.9 L312.7,827.7 L313.9,825.5 L315.1,823.4 L316.3,821.2 L317.6,819.0 L318.8,816.8 L320.0,814.6 L321.2,812.5 L322.4,810.3 L323.6,808.1 L324.9,805.9 L326.1,803.7 L327.3,801.6 L328.5,799.4 L329.7,797.2 L331.0,795.0 L332.2,792.9 L333.4,790.7 L334.6,788.5 L335.8,786.3 L337.1,784.2 L338.3,782.0 L339.5,779.8 L340.7,777.6 L342.0,775.5 L343.2,773.3 L344.4,771.1 L345.6,768.9 L346.9,766.8 L348.1,764.6 L349.3,762.4 L350.5,760.2 L351.8,758.1 L353.0,755.9 L354.2,753.7 L355.5,751.6 L356.7,749.4 L357.9,747.2 L359.2,745.0 L360.4,742.9 L361.6,740.7 L362.9,738.5 L364.1,736.4 L365.3,734.2 L366.6,732.0 L367.8,729.9 L369.0,727.7 L370.3,725.5 L371.5,723.4 L372.8,721.2 L374.0,719.0 L375.2,716.9 L376.5,714.7 L377.7,712.5 L379.0,710.4 L380.2,708.2 L381.5,706.1 L382.7,703.9 L384.0,701.7 L385.2,699.6 L386.4,697.4 L387.7,695.2 L388.9,693.1 L390.2,690.9 L391.4,688.8 L392.7,686.6 L393.9,684.4 L395.2,682.3 L396.5,680.1 L397.7,678.0 L399.0,675.8 L400.2,673.6 L401.5,671.5 L402.7,669.3 L404.0,667.2 L405.2,665.0 L406.5,662.9 L407.8,660.7 L409.0,658.6 L410.3,656.4 L411.5,654.3 L412.8,652.1 L414.1,649.9 L415.3,647.8 L416.6,645.6 L417.9,643.5 L419.1,641.3 L420.4,639.2 L421.7,637.0 L423.0,634.9 L424.2,632.7 L425.5,630.6 L426.8,628.5 L428.0,626.3 L429.3,624.2 L430.6,622.0 L431.9,619.9 L433.1,617.7 L434.4,615.6 L435.7,613.4 L437.0,611.3 L438.3,609.2 L439.6,607.0 L440.8,604.9 L442.1,602.7 L443.4,600.6 L444.7,598.4 L446.0,596.3 L447.3,594.2 L448.6,592.0 L449.8,589.9 L451.1,587.8 L452.4,585.6 L453.7,583.5 L455.0,581.4 L456.3,579.2 L457.6,577.1 L458.9,575.0 L460.2,572.8 L461.5,570.7 L462.8,568.6 L464.1,566.4 L465.4,564.3 L466.7,562.2 L468.0,560.1 L469.4,557.9 L470.7,555.8 L472.0,553.7 L473.3,551.6 L474.6,549.4 L475.9,547.3 L477.2,545.2 L478.6,543.1 L479.9,541.0 L481.2,538.8 L482.5,536.7 L483.9,534.6 L485.2,532.5 L486.5,530.4 L487.9,528.3 L489.2,526.2 L490.5,524.1 L491.9,522.0 L493.2,519.8 L494.5,517.7 L495.9,515.6 L497.2,513.5 L498.6,511.4 L499.9,509.3 L501.3,507.2 L502.6,505.1 L504.0,503.0 L505.3,500.9 L506.7,498.8 L508.0,496.8 L509.4,494.7 L510.8,492.6 L512.1,490.5 L513.5,488.4 L514.9,486.3 L516.2,484.2 L517.6,482.1 L519.0,480.1 L520.4,478.0 L521.8,475.9 L523.1,473.8 L524.5,471.8 L525.9,469.7 L527.3,467.6 L528.7,465.5 L530.1,463.5 L531.5,461.4 L532.9,459.3 L534.3,457.3 L535.7,455.2 L537.1,453.2 L538.5,451.1 L539.9,449.0 L541.3,447.0 L542.7,444.9 L544.2,442.9 L545.6,440.8 L547.0,438.8 L548.4,436.7 L549.8,434.7 L551.3,432.6 L552.7,430.6 L554.1,428.6 L555.6,426.5 L557.0,424.5 L558.5,422.5 L559.9,420.4 L561.4,418.4 L562.8,416.4 L564.3,414.3 L565.7,412.3 L567.2,410.3 L568.6,408.3 L570.1,406.3 L571.6,404.2 L573.1,402.2 L574.5,400.2 L576.0,398.2 L577.5,396.2 L579.0,394.2 L580.5,392.2 L581.9,390.2 L583.4,388.2 L584.9,386.2 L586.4,384.2 L587.9,382.2 L589.4,380.2 L590.9,378.2 L592.5,376.2 L594.0,374.3 L595.5,372.3 L597.0,370.3 L598.5,368.3 L600.1,366.4 L601.6,364.4 L603.1,362.4 L604.7,360.4 L606.2,358.5 L607.7,356.5 L609.3,354.6 L610.8,352.6 L612.4,350.7 L613.9,348.7 L615.5,346.7 L617.1,344.8 L618.6,342.9 L620.2,340.9 L621.8,339.0 L623.3,337.0 L624.9,335.1 L626.5,333.2 L628.1,331.2 L629.7,329.3 L631.3,327.4 L632.9,325.5 L634.5,323.6 L636.1,321.6 L637.7,319.7 L639.3,317.8 L640.9,315.9 L642.6,314.0 L644.2,312.1 L645.8,310.2 L647.4,308.3 L649.1,306.4 L650.7,304.5 L652.4,302.6 L654.0,300.8 L655.7,298.9 L657.3,297.0 L659.0,295.1 L660.6,293.3 L662.3,291.4 L664.0,289.5 L665.7,287.7 L667.4,285.8 L669.0,284.0 L670.7,282.1 L672.4,280.3 L674.1,278.5 L675.8,276.6 L677.5,274.8 L679.3,273.0 L681.0,271.2 L682.7,269.4 L684.4,267.6 L686.2,265.8 L687.9,264.0 L689.6,262.2 L691.4,260.4 L693.1,258.6 L694.9,256.8 L696.7,255.1 L698.4,253.3 L700.2,251.6 L702.0,249.8 L703.8,248.1 L705.6,246.3 L707.4,244.6 L709.2,242.9 L711.0,241.1 L712.8,239.4 L714.6,237.7 L716.4,236.0 L718.2,234.3 L720.1,232.6 L721.9,230.9 L723.8,229.3 L725.6,227.6 L727.5,225.9 L729.3,224.3 L731.2,222.6 L733.1,221.0 L734.9,219.4 L736.8,217.8 L738.7,216.1 L740.6,214.5 L742.5,212.9 L744.4,211.3 L746.4,209.7 L748.3,208.2 L750.2,206.6 L752.1,205.0 L754.1,203.5 L756.0,201.9 L758.0,200.4 L759.9,198.9 L761.9,197.4 L763.9,195.9 L765.9,194.4 L767.9,192.9 L769.9,191.4 L771.9,189.9 L773.9,188.4 L775.9,187.0 L777.9,185.5 L779.9,184.1 L782.0,182.7 L784.0,181.3 L786.1,179.9 L788.1,178.5 L790.2,177.1 L792.2,175.7 L794.3,174.3 L796.4,173.0 L798.5,171.6 L800.6,170.3 L802.7,168.9 L804.8,167.6 L806.9,166.3 L809.1,165.0 L811.2,163.7 L813.4,162.5 L815.5,161.2 L817.7,159.9 L819.8,158.7 L822.0,157.4 L824.2,156.2 L826.4,154.9 L828.5,153.7 L830.7,152.4 L832.9,151.2 L835.1,149.9 L837.3,148.6 L839.5,147.3 L841.7,146.1 L843.9,145.0 L846.1,144.0 L848.3,143.2 L850.6,142.4 L852.9,141.7 L855.2,141.1 L857.6,140.6 L860.1,140.1 L862.7,139.7 L865.3,139.3 L868.0,139.0 L870.7,138.8 L873.3,138.9 L875.8,139.2 L878.1,139.9 L880.0,141.1 L881.7,142.7 L883.2,144.6 L884.5,146.8 L885.7,149.0 L886.7,151.2 L887.6,153.5 L888.5,155.9 L889.3,158.2 L890.0,160.6 L890.6,163.0 L891.1,165.4 L891.6,167.9 L892.0,170.3 L892.4,172.8 L892.7,175.3 L893.0,177.8 L893.2,180.3 L893.5,182.8 L893.7,185.3 L893.9,187.8 L894.0,190.3 L894.2,192.8 L894.4,195.4 L894.6,197.9 L894.7,200.4 L894.9,202.9 L895.1,205.4 L895.2,207.9 L895.4,210.3 L895.6,212.8 L895.7,215.3 L895.9,217.8 L896.1,220.3 L896.2,222.8 L896.4,225.2 L896.5,227.7 L896.7,230.2 L896.8,232.7 L896.9,235.2 L897.1,237.6 L897.2,240.1 L897.3,242.6 L897.4,245.1 L897.5,247.6 L897.7,250.0 L897.8,252.5 L897.9,255.0 L897.9,257.5 L898.0,260.0 L898.1,262.5 L898.2,265.0 L898.2,267.4 L898.3,269.9 L898.4,272.4 L898.4,274.9 L898.4,277.5 L898.5,280.0 L898.5,282.5 L898.5,285.0" stroke="#22ee22" stroke-width="3.2" fill="none" stroke-linejoin="round"/>
<path d="M197.0,1037.5 L197.9,1035.2 L198.8,1032.9 L199.8,1030.5 L200.7,1028.2 L201.6,1025.9 L202.5,1023.6 L203.5,1021.2 L204.4,1018.9 L205.3,1016.6 L206.2,1014.3 L207.2,1011.9 L208.1,1009.6 L209.0,1007.3 L209.9,1005.0 L210.9,1002.7 L211.8,1000.3 L212.7,998.0 L213.6,995.7 L214.6,993.4 L215.5,991.0 L216.4,988.7 L217.3,986.4 L218.3,984.1 L219.2,981.8 L220.1,979.4 L221.1,977.1 L222.0,974.8 L222.9,972.5 L223.8,970.2 L224.8,967.8 L225.7,965.5 L226.6,963.2 L227.6,960.9 L228.5,958.6 L229.4,956.2 L230.4,953.9 L231.3,951.6 L232.2,949.3 L233.2,947.0 L234.1,944.6 L235.0,942.3 L236.0,940.0 L236.9,937.7 L237.8,935.4 L238.8,933.1 L239.7,930.7 L240.7,928.4 L241.6,926.1 L242.5,923.8 L243.5,921.5 L244.4,919.2 L245.4,916.8 L246.3,914.5 L247.2,912.2 L248.2,909.9 L249.1,907.6 L250.1,905.3 L251.0,903.0 L252.0,900.6 L252.9,898.3 L253.8,896.0 L254.8,893.7 L255.7,891.4 L256.7,889.1 L257.6,886.8 L258.6,884.5 L259.5,882.1 L260.5,879.8 L261.4,877.5 L262.4,875.2 L263.3,872.9 L264.3,870.6 L265.2,868.3 L266.2,866.0 L267.1,863.7 L268.1,861.3 L269.0,859.0 L270.0,856.7 L270.9,854.4 L271.9,852.1 L272.9,849.8 L273.8,847.5 L274.8,845.2 L275.7,842.9 L276.7,840.6 L277.7,838.3 L278.6,836.0 L279.6,833.7 L280.5,831.3 L281.5,829.0 L282.5,826.7 L283.4,824.4 L284.4,822.1 L285.4,819.8 L286.3,817.5 L287.3,815.2 L288.3,812.9 L289.2,810.6 L290.2,808.3 L291.2,806.0 L292.1,803.7 L293.1,801.4 L294.1,799.1 L295.1,796.8 L296.0,794.5 L297.0,792.2 L298.0,789.9 L299.0,787.6 L299.9,785.3 L300.9,783.0 L301.9,780.7 L302.9,778.4 L303.8,776.1 L304.8,773.8 L305.8,771.5 L306.8,769.2 L307.8,766.9 L308.8,764.6 L309.7,762.3 L310.7,760.1 L311.7,757.8 L312.7,755.5 L313.7,753.2 L314.7,750.9 L315.7,748.6 L316.7,746.3 L317.7,744.0 L318.6,741.7 L319.6,739.4 L320.6,737.1 L321.6,734.8 L322.6,732.6 L323.6,730.3 L324.6,728.0 L325.6,725.7 L326.6,723.4 L327.6,721.1 L328.6,718.8 L329.6,716.5 L330.6,714.3 L331.6,712.0 L332.6,709.7 L333.7,707.4 L334.7,705.1 L335.7,702.8 L336.7,700.5 L337.7,698.3 L338.7,696.0 L339.7,693.7 L340.7,691.4 L341.7,689.1 L342.8,686.9 L343.8,684.6 L344.8,682.3 L345.8,680.0 L346.8,677.7 L347.9,675.5 L348.9,673.2 L349.9,670.9 L350.9,668.6 L352.0,666.4 L353.0,664.1 L354.0,661.8 L355.0,659.5 L356.1,657.3 L357.1,655.0 L358.1,652.7 L359.2,650.4 L360.2,648.2 L361.2,645.9 L362.3,643.6 L363.3,641.3 L364.4,639.1 L365.4,636.8 L366.4,634.5 L367.5,632.3 L368.5,630.0 L369.6,627.7 L370.6,625.5 L371.7,623.2 L372.7,620.9 L373.8,618.7 L374.8,616.4 L375.9,614.1 L376.9,611.9 L378.0,609.6 L379.0,607.4 L380.1,605.1 L381.1,602.8 L382.2,600.6 L383.3,598.3 L384.3,596.1 L385.4,593.8 L386.4,591.5 L387.5,589.3 L388.6,587.0 L389.6,584.8 L390.7,582.5 L391.8,580.3 L392.9,578.0 L393.9,575.7 L395.0,573.5 L396.1,571.2 L397.2,569.0 L398.2,566.7 L399.3,564.5 L400.4,562.2 L401.5,560.0 L402.6,557.7 L403.6,555.5 L404.7,553.2 L405.8,551.0 L406.9,548.7 L408.0,546.5 L409.1,544.2 L410.2,542.0 L411.3,539.8 L412.4,537.5 L413.5,535.3 L414.6,533.0 L415.7,530.8 L416.8,528.5 L417.9,526.3 L419.0,524.1 L420.1,521.8 L421.2,519.6 L422.3,517.4 L423.4,515.1 L424.5,512.9 L425.6,510.6 L426.7,508.4 L427.9,506.2 L429.0,503.9 L430.1,501.7 L431.2,499.5 L432.3,497.2 L433.5,495.0 L434.6,492.8 L435.7,490.5 L436.8,488.3 L438.0,486.1 L439.1,483.9 L440.2,481.6 L441.4,479.4 L442.5,477.2 L443.6,475.0 L444.8,472.7 L445.9,470.5 L447.1,468.3 L448.2,466.1 L449.3,463.8 L450.5,461.6 L451.6,459.4 L452.8,457.2 L453.9,455.0 L455.1,452.8 L456.2,450.5 L457.4,448.3 L458.6,446.1 L459.7,443.9 L460.9,441.7 L462.0,439.5 L463.2,437.2 L464.4,435.0 L465.5,432.8 L466.7,430.6 L467.9,428.4 L469.0,426.2 L470.2,424.0 L471.4,421.8 L472.6,419.6 L473.7,417.4 L474.9,415.2 L476.1,413.0 L477.3,410.8 L478.5,408.6 L479.7,406.4 L480.8,404.2 L482.0,402.0 L483.2,399.8 L484.4,397.6 L485.6,395.4 L486.8,393.2 L488.0,391.0 L489.2,388.8 L490.4,386.6 L491.6,384.4 L492.8,382.2 L494.0,380.0 L495.2,377.8 L496.5,375.6 L497.7,373.4 L498.9,371.2 L500.1,369.0 L501.3,366.9 L502.5,364.7 L503.8,362.5 L505.0,360.3 L506.2,358.1 L507.4,355.9 L508.7,353.8 L509.9,351.6 L511.1,349.4 L512.4,347.2 L513.6,345.0 L514.8,342.9 L516.1,340.7 L517.3,338.5 L518.6,336.3 L519.8,334.2 L521.1,332.0 L522.3,329.8 L523.6,327.7 L524.8,325.5 L526.1,323.3 L527.4,321.2 L528.6,319.0 L529.9,316.9 L531.2,314.7 L532.5,312.5 L533.7,310.4 L535.0,308.2 L536.3,306.1 L537.6,304.0 L538.9,301.8 L540.2,299.7 L541.5,297.5 L542.8,295.4 L544.1,293.3 L545.5,291.2 L546.8,289.0 L548.1,286.9 L549.4,284.8 L550.8,282.7 L552.1,280.6 L553.4,278.5 L554.8,276.4 L556.1,274.3 L557.5,272.2 L558.9,270.1 L560.2,268.0 L561.6,265.9 L563.0,263.8 L564.4,261.8 L565.8,259.7 L567.2,257.6 L568.5,255.5 L570.0,253.5 L571.4,251.4 L572.8,249.4 L574.2,247.3 L575.6,245.3 L577.1,243.3 L578.5,241.2 L580.0,239.2 L581.4,237.2 L582.9,235.2 L584.3,233.1 L585.8,231.1 L587.3,229.1 L588.8,227.1 L590.3,225.2 L591.8,223.2 L593.3,221.2 L594.8,219.2 L596.3,217.2 L597.8,215.3 L599.4,213.3 L600.9,211.4 L602.4,209.4 L604.0,207.5 L605.6,205.5 L607.1,203.6 L608.7,201.7 L610.3,199.8 L611.9,197.9 L613.5,196.0 L615.1,194.1 L616.7,192.2 L618.4,190.3 L620.0,188.4 L621.6,186.6 L623.3,184.7 L624.9,182.8 L626.6,181.0 L628.3,179.2 L630.0,177.3 L631.7,175.5 L633.4,173.7 L635.1,171.9 L636.8,170.1 L638.6,168.3 L640.3,166.5 L642.1,164.7 L643.8,163.0 L645.6,161.2 L647.4,159.5 L649.3,157.8 L651.1,156.1 L652.9,154.4 L654.8,152.7 L656.7,151.1 L658.6,149.5 L660.5,147.8 L662.4,146.2 L664.4,144.7 L666.4,143.1 L668.3,141.6 L670.4,140.0 L672.4,138.5 L674.4,137.1 L676.5,135.6 L678.6,134.3 L680.8,132.9 L683.0,131.7 L685.2,130.6 L687.5,129.5 L689.8,128.6 L692.2,127.8 L694.7,127.1 L697.2,126.6 L699.8,126.3 L702.3,126.1 L704.8,126.2 L707.3,126.5 L709.6,127.1 L711.8,128.0 L713.8,129.2 L715.7,130.6 L717.4,132.3 L718.9,134.2 L720.3,136.2 L721.6,138.3 L722.8,140.5 L723.9,142.8 L724.8,145.1 L725.7,147.4 L726.5,149.8 L727.2,152.2 L727.9,154.6 L728.5,157.1 L729.0,159.5 L729.5,162.0 L729.9,164.5 L730.3,167.0 L730.7,169.6 L731.1,172.1 L731.4,174.6 L731.7,177.1 L732.0,179.6 L732.4,182.1 L732.7,184.6 L733.0,187.0 L733.3,189.5 L733.5,192.0 L733.8,194.4 L734.1,196.9 L734.3,199.3 L734.6,201.8 L734.8,204.2 L735.0,206.7 L735.2,209.1 L735.4,211.6 L735.5,214.1 L735.7,216.5 L735.8,219.0 L736.0,221.5 L736.1,223.9 L736.2,226.4 L736.2,228.9 L736.3,231.4 L736.3,233.9 L736.3,236.5 L736.3,239.0 L736.3,241.6 L736.3,244.1 L736.2,246.7" stroke="#1414e6" stroke-width="3.2" fill="none" stroke-linejoin="round"/>
<path d="M212.6,2209.0 L214.2,2207.0 L215.7,2205.1 L217.3,2203.1 L218.8,2201.2 L220.4,2199.2 L221.9,2197.3 L223.5,2195.3 L225.1,2193.4 L226.6,2191.4 L228.2,2189.5 L229.7,2187.5 L231.3,2185.6 L232.9,2183.6 L234.4,2181.7 L236.0,2179.7 L237.6,2177.8 L239.2,2175.8 L240.7,2173.9 L242.3,2171.9 L243.9,2170.0 L245.5,2168.1 L247.0,2166.1 L248.6,2164.2 L250.2,2162.2 L251.8,2160.3 L253.3,2158.4 L254.9,2156.4 L256.5,2154.5 L258.1,2152.6 L259.7,2150.6 L261.2,2148.7 L262.8,2146.8 L264.4,2144.8 L266.0,2142.9 L267.6,2141.0 L269.2,2139.0 L270.8,2137.1 L272.3,2135.2 L273.9,2133.2 L275.5,2131.3 L277.1,2129.4 L278.7,2127.4 L280.3,2125.5 L281.9,2123.6 L283.5,2121.7 L285.1,2119.7 L286.7,2117.8 L288.2,2115.9 L289.8,2113.9 L291.4,2112.0 L293.0,2110.1 L294.6,2108.2 L296.2,2106.2 L297.8,2104.3 L299.4,2102.4 L301.0,2100.5 L302.6,2098.5 L304.2,2096.6 L305.8,2094.7 L307.3,2092.8 L308.9,2090.8 L310.5,2088.9 L312.1,2087.0 L313.7,2085.0 L315.3,2083.1 L316.9,2081.2 L318.5,2079.3 L320.1,2077.3 L321.7,2075.4 L323.3,2073.5 L324.8,2071.6 L326.4,2069.6 L328.0,2067.7 L329.6,2065.8 L331.2,2063.8 L332.8,2061.9 L334.4,2060.0 L336.0,2058.0 L337.6,2056.1 L339.1,2054.2 L340.7,2052.2 L342.3,2050.3 L343.9,2048.4 L345.5,2046.5 L347.1,2044.5 L348.6,2042.6 L350.2,2040.6 L351.8,2038.7 L353.4,2036.8 L355.0,2034.8 L356.5,2032.9 L358.1,2031.0 L359.7,2029.0 L361.3,2027.1 L362.9,2025.1 L364.4,2023.2 L366.0,2021.3 L367.6,2019.3 L369.1,2017.4 L370.7,2015.4 L372.3,2013.5 L373.9,2011.5 L375.4,2009.6 L377.0,2007.6 L378.6,2005.7 L380.1,2003.7 L381.7,2001.8 L383.2,1999.8 L384.8,1997.9 L386.4,1995.9 L387.9,1994.0 L389.5,1992.0 L391.0,1990.1 L392.6,1988.1 L394.1,1986.2 L395.7,1984.2 L397.2,1982.2 L398.8,1980.3 L400.3,1978.3 L401.9,1976.4 L403.4,1974.4 L405.0,1972.4 L406.5,1970.5 L408.1,1968.5 L409.6,1966.5 L411.2,1964.6 L412.7,1962.6 L414.2,1960.6 L415.8,1958.7 L417.3,1956.7 L418.9,1954.7 L420.4,1952.8 L422.0,1950.8 L423.5,1948.8 L425.0,1946.9 L426.6,1944.9 L428.1,1942.9 L429.6,1940.9 L431.2,1939.0 L432.7,1937.0 L434.3,1935.0 L435.8,1933.1 L437.3,1931.1 L438.9,1929.1 L440.4,1927.1 L441.9,1925.2 L443.5,1923.2 L445.0,1921.2 L446.5,1919.2 L448.1,1917.3 L449.6,1915.3 L451.1,1913.3 L452.7,1911.4 L454.2,1909.4 L455.7,1907.4 L457.3,1905.4 L458.8,1903.5 L460.4,1901.5 L461.9,1899.5 L463.4,1897.5 L465.0,1895.6 L466.5,1893.6 L468.0,1891.6 L469.6,1889.7 L471.1,1887.7 L472.7,1885.7 L474.2,1883.8 L475.7,1881.8 L477.3,1879.8 L478.8,1877.9 L480.4,1875.9 L481.9,1873.9 L483.4,1872.0 L485.0,1870.0 L486.5,1868.0 L488.1,1866.1 L489.6,1864.1 L491.2,1862.1 L492.7,1860.2 L494.3,1858.2 L495.8,1856.2 L497.4,1854.3 L498.9,1852.3 L500.5,1850.4 L502.0,1848.4 L503.6,1846.5 L505.1,1844.5 L506.7,1842.5 L508.3,1840.6 L509.8,1838.6 L511.4,1836.7 L512.9,1834.7 L514.5,1832.8 L516.1,1830.8 L517.6,1828.9 L519.2,1826.9 L520.8,1825.0 L522.3,1823.1 L523.9,1821.1 L525.5,1819.2 L527.1,1817.2 L528.6,1815.3 L530.2,1813.4 L531.8,1811.4 L533.4,1809.5 L535.0,1807.6 L536.6,1805.6 L538.1,1803.7 L539.7,1801.8 L541.3,1799.8 L542.9,1797.9 L544.5,1796.0 L546.1,1794.1 L547.7,1792.1 L549.3,1790.2 L550.9,1788.3 L552.5,1786.4 L554.1,1784.5 L555.7,1782.6 L557.3,1780.6 L558.9,1778.7 L560.6,1776.8 L562.2,1774.9 L563.8,1773.0 L565.4,1771.1 L567.0,1769.2 L568.7,1767.3 L570.3,1765.4 L571.9,1763.5 L573.5,1761.6 L575.2,1759.7 L576.8,1757.8 L578.4,1755.9 L580.1,1754.0 L581.7,1752.2 L583.3,1750.3 L585.0,1748.4 L586.6,1746.5 L588.3,1744.6 L589.9,1742.7 L591.5,1740.8 L593.2,1739.0 L594.8,1737.1 L596.5,1735.2 L598.1,1733.3 L599.8,1731.4 L601.4,1729.6 L603.1,1727.7 L604.7,1725.8 L606.4,1723.9 L608.0,1722.1 L609.7,1720.2 L611.4,1718.3 L613.0,1716.4 L614.7,1714.6 L616.3,1712.7 L618.0,1710.8 L619.6,1709.0 L621.3,1707.1 L623.0,1705.2 L624.6,1703.4 L626.3,1701.5 L628.0,1699.6 L629.6,1697.7 L631.3,1695.9 L632.9,1694.0 L634.6,1692.2 L636.3,1690.3 L637.9,1688.4 L639.6,1686.6 L641.3,1684.7 L642.9,1682.8 L644.6,1681.0 L646.3,1679.1 L647.9,1677.2 L649.6,1675.4 L651.2,1673.5 L652.9,1671.6 L654.6,1669.8 L656.2,1667.9 L657.9,1666.0 L659.6,1664.2 L661.2,1662.3 L662.9,1660.4 L664.6,1658.6 L666.2,1656.7 L667.9,1654.9 L669.6,1653.0 L671.2,1651.1 L672.9,1649.3 L674.6,1647.4 L676.2,1645.6 L677.9,1643.7 L679.6,1641.8 L681.2,1640.0 L682.9,1638.1 L684.6,1636.3 L686.2,1634.4 L687.9,1632.5 L689.6,1630.7 L691.3,1628.8 L692.9,1627.0 L694.6,1625.1 L696.3,1623.3 L698.0,1621.4 L699.6,1619.6 L701.3,1617.7 L703.0,1615.9 L704.7,1614.0 L706.4,1612.2 L708.1,1610.3 L709.7,1608.5 L711.4,1606.7 L713.1,1604.8 L714.8,1603.0 L716.5,1601.1 L718.2,1599.3 L719.9,1597.5 L721.6,1595.6 L723.3,1593.8 L725.0,1592.0 L726.7,1590.1 L728.4,1588.3 L730.1,1586.5 L731.8,1584.7 L733.5,1582.8 L735.2,1581.0 L736.9,1579.2 L738.6,1577.4 L740.3,1575.6 L742.0,1573.8 L743.8,1571.9 L745.5,1570.1 L747.2,1568.3 L748.9,1566.5 L750.6,1564.7 L752.4,1562.9 L754.1,1561.1 L755.8,1559.3 L757.6,1557.5 L759.3,1555.7 L761.0,1553.9 L762.8,1552.1 L764.5,1550.3 L766.3,1548.6 L768.0,1546.8 L769.8,1545.0 L771.5,1543.2 L773.3,1541.4 L775.0,1539.7 L776.8,1537.9 L778.6,1536.1 L780.3,1534.4 L782.1,1532.6 L783.9,1530.8 L785.6,1529.1 L787.4,1527.3 L789.2,1525.6 L791.0,1523.8 L792.8,1522.1 L794.6,1520.3 L796.3,1518.6 L798.1,1516.8 L799.9,1515.1 L801.7,1513.4 L803.6,1511.6 L805.4,1509.9 L807.2,1508.2 L809.0,1506.5 L810.8,1504.8 L812.6,1503.1 L814.5,1501.4 L816.3,1499.7 L818.1,1498.0 L820.0,1496.3 L821.8,1494.6 L823.6,1492.9 L825.5,1491.2 L827.3,1489.5 L829.2,1487.9 L831.1,1486.2 L832.9,1484.5 L834.8,1482.9 L836.7,1481.2 L838.5,1479.6 L840.4,1477.9 L842.3,1476.3 L844.2,1474.7 L846.1,1473.0 L848.0,1471.4 L849.9,1469.8 L851.8,1468.2 L853.7,1466.6 L855.6,1465.0 L857.5,1463.4 L859.4,1461.8 L861.4,1460.2 L863.3,1458.6 L865.2,1457.0 L867.2,1455.5 L869.1,1453.9 L871.1,1452.4 L873.0,1450.8 L875.0,1449.3 L877.0,1447.7 L878.9,1446.2 L880.9,1444.7 L882.9,1443.1 L884.9,1441.6 L886.9,1440.1 L888.9,1438.6 L890.9,1437.1 L892.9,1435.6 L894.9,1434.2 L896.9,1432.7 L898.9,1431.2 L901.0,1429.8 L903.0,1428.3 L905.0,1426.9 L907.1,1425.4 L909.1,1424.0 L911.2,1422.6 L913.2,1421.1 L915.3,1419.7 L917.4,1418.3 L919.4,1416.9 L921.5,1415.6 L923.6,1414.2 L925.7,1412.8 L927.8,1411.5 L929.9,1410.1 L932.0,1408.8 L934.1,1407.4 L936.2,1406.1 L938.4,1404.8 L940.5,1403.5 L942.6,1402.2 L944.8,1400.9 L946.9,1399.6 L949.1,1398.3 L951.2,1397.1 L953.4,1395.8 L955.6,1394.6 L957.7,1393.3 L959.9,1392.1 L962.1,1390.9 L964.3,1389.7 L966.5,1388.5 L968.7,1387.3 L970.9,1386.1 L973.1,1385.0 L975.3,1383.8 L977.5,1382.7 L979.8,1381.6 L982.0,1380.4 L984.2,1379.3 L986.5,1378.2 L988.7,1377.1 L991.0,1376.1 L993.2,1375.0 L995.5,1373.9 L997.8,1372.9 L1000.1,1371.9 L1002.3,1370.8 L1004.6,1369.8 L1006.9,1368.8 L1009.2,1367.9 L1011.5,1366.9 L1013.8,1365.9 L1016.1,1365.0 L1018.5,1364.0 L1020.8,1363.1 L1023.1,1362.2 L1025.4,1361.3 L1027.8,1360.4 L1030.1,1359.6 L1032.5,1358.7 L1034.8,1357.9 L1037.2,1357.0 L1039.5,1356.2 L1041.9,1355.4 L1044.2,1354.6 L1046.6,1353.8 L1049.0,1353.1 L1051.4,1352.3 L1053.7,1351.6 L1056.1,1350.9 L1058.5,1350.2 L1060.9,1349.5 L1063.3,1348.8 L1065.7,1348.1 L1068.1,1347.5 L1070.5,1346.8 L1072.9,1346.2 L1075.3,1345.6 L1077.8,1345.0 L1080.2,1344.4 L1082.6,1343.8 L1085.0,1343.2 L1087.5,1342.6 L1089.9,1342.0 L1092.4,1341.5 L1094.8,1340.9 L1097.3,1340.3 L1099.7,1339.8 L1102.2,1339.2 L1104.6,1338.6 L1107.1,1338.1 L1109.6,1337.6 L1112.0,1337.0 L1114.5,1336.6 L1117.0,1336.1 L1119.5,1335.7 L1121.9,1335.3 L1124.4,1335.0 L1126.9,1334.8 L1129.4,1334.5 L1131.8,1334.4 L1134.3,1334.3 L1136.8,1334.3 L1139.2,1334.4 L1141.7,1334.6 L1144.2,1334.9 L1146.6,1335.2 L1149.0,1335.6 L1151.5,1336.1 L1153.9,1336.7 L1156.2,1337.4 L1158.6,1338.1 L1161.0,1338.9 L1163.3,1339.8 L1165.6,1340.8 L1167.9,1341.8 L1170.1,1342.9 L1172.3,1344.1 L1174.5,1345.3 L1176.6,1346.6 L1178.7,1348.0 L1180.8,1349.4 L1182.8,1350.9 L1184.8,1352.5 L1186.7,1354.1 L1188.6,1355.8 L1190.4,1357.5 L1192.2,1359.2 L1194.0,1361.0 L1195.7,1362.9 L1197.4,1364.8 L1199.0,1366.7 L1200.6,1368.7 L1202.1,1370.7 L1203.6,1372.7 L1205.0,1374.8 L1206.4,1376.9 L1207.7,1379.0 L1209.0,1381.1 L1210.3,1383.3 L1211.5,1385.5 L1212.7,1387.7 L1213.8,1389.9 L1214.9,1392.1 L1216.0,1394.3 L1217.0,1396.6 L1218.1,1398.8 L1219.0,1401.1 L1220.0,1403.4 L1220.9,1405.7 L1221.8,1408.0 L1222.7,1410.4 L1223.5,1412.7 L1224.3,1415.1 L1225.1,1417.4 L1225.8,1419.8 L1226.6,1422.2 L1227.3,1424.6 L1227.9,1427.0 L1228.6,1429.4 L1229.2,1431.8 L1229.8,1434.3 L1230.4,1436.7 L1231.0,1439.1 L1231.5,1441.6 L1232.0,1444.0 L1232.5,1446.5 L1233.0,1449.0 L1233.5,1451.4 L1233.9,1453.9 L1234.4,1456.4 L1234.8,1458.9 L1235.2,1461.3 L1235.5,1463.8 L1235.9,1466.3 L1236.3,1468.8 L1236.6,1471.3 L1236.9,1473.8 L1237.3,1476.3 L1237.6,1478.8 L1237.9,1481.3 L1238.1,1483.8 L1238.4,1486.3 L1238.7,1488.8 L1238.9,1491.2 L1239.2,1493.7 L1239.4,1496.2 L1239.7,1498.7 L1239.9,1501.2 L1240.1,1503.7 L1240.4,1506.1 L1240.6,1508.6 L1240.8,1511.0 L1241.0,1513.5" stroke="#111111" stroke-width="3.2" fill="none" stroke-linejoin="round"/>
<path d="M212.6,2209.0 L214.1,2207.0 L215.5,2204.9 L216.9,2202.9 L218.4,2200.9 L219.8,2198.8 L221.3,2196.8 L222.7,2194.7 L224.2,2192.7 L225.6,2190.7 L227.0,2188.6 L228.5,2186.6 L229.9,2184.5 L231.4,2182.5 L232.8,2180.4 L234.2,2178.4 L235.7,2176.3 L237.1,2174.3 L238.5,2172.3 L239.9,2170.2 L241.4,2168.2 L242.8,2166.1 L244.2,2164.1 L245.7,2162.0 L247.1,2159.9 L248.5,2157.9 L249.9,2155.8 L251.3,2153.8 L252.8,2151.7 L254.2,2149.7 L255.6,2147.6 L257.0,2145.6 L258.4,2143.5 L259.8,2141.4 L261.3,2139.4 L262.7,2137.3 L264.1,2135.3 L265.5,2133.2 L266.9,2131.1 L268.3,2129.1 L269.7,2127.0 L271.1,2125.0 L272.6,2122.9 L274.0,2120.8 L275.4,2118.8 L276.8,2116.7 L278.2,2114.6 L279.6,2112.6 L281.0,2110.5 L282.4,2108.4 L283.8,2106.4 L285.2,2104.3 L286.6,2102.2 L288.0,2100.2 L289.4,2098.1 L290.8,2096.0 L292.2,2094.0 L293.6,2091.9 L295.0,2089.8 L296.4,2087.8 L297.8,2085.7 L299.2,2083.6 L300.6,2081.6 L302.0,2079.5 L303.4,2077.4 L304.8,2075.3 L306.2,2073.3 L307.6,2071.2 L308.9,2069.1 L310.3,2067.0 L311.7,2065.0 L313.1,2062.9 L314.5,2060.8 L315.9,2058.8 L317.3,2056.7 L318.7,2054.6 L320.1,2052.5 L321.5,2050.5 L322.9,2048.4 L324.3,2046.3 L325.6,2044.2 L327.0,2042.2 L328.4,2040.1 L329.8,2038.0 L331.2,2035.9 L332.6,2033.9 L334.0,2031.8 L335.4,2029.7 L336.8,2027.6 L338.1,2025.6 L339.5,2023.5 L340.9,2021.4 L342.3,2019.3 L343.7,2017.3 L345.1,2015.2 L346.5,2013.1 L347.9,2011.0 L349.3,2008.9 L350.6,2006.9 L352.0,2004.8 L353.4,2002.7 L354.8,2000.6 L356.2,1998.6 L357.6,1996.5 L359.0,1994.4 L360.4,1992.3 L361.8,1990.3 L363.1,1988.2 L364.5,1986.1 L365.9,1984.0 L367.3,1982.0 L368.7,1979.9 L370.1,1977.8 L371.5,1975.7 L372.9,1973.7 L374.3,1971.6 L375.7,1969.5 L377.1,1967.5 L378.4,1965.4 L379.8,1963.3 L381.2,1961.2 L382.6,1959.2 L384.0,1957.1 L385.4,1955.0 L386.8,1952.9 L388.2,1950.9 L389.6,1948.8 L391.0,1946.7 L392.4,1944.7 L393.8,1942.6 L395.2,1940.5 L396.6,1938.5 L398.0,1936.4 L399.4,1934.3 L400.8,1932.3 L402.2,1930.2 L403.6,1928.1 L405.0,1926.0 L406.4,1924.0 L407.8,1921.9 L409.2,1919.9 L410.6,1917.8 L412.0,1915.7 L413.4,1913.7 L414.8,1911.6 L416.2,1909.5 L417.6,1907.5 L419.0,1905.4 L420.4,1903.3 L421.9,1901.3 L423.3,1899.2 L424.7,1897.2 L426.1,1895.1 L427.5,1893.0 L428.9,1891.0 L430.3,1888.9 L431.7,1886.9 L433.2,1884.8 L434.6,1882.8 L436.0,1880.7 L437.4,1878.6 L438.8,1876.6 L440.3,1874.5 L441.7,1872.5 L443.1,1870.4 L444.5,1868.4 L445.9,1866.3 L447.4,1864.3 L448.8,1862.2 L450.2,1860.2 L451.7,1858.1 L453.1,1856.1 L454.5,1854.0 L455.9,1852.0 L457.4,1849.9 L458.8,1847.9 L460.3,1845.9 L461.7,1843.8 L463.1,1841.8 L464.6,1839.7 L466.0,1837.7 L467.4,1835.7 L468.9,1833.6 L470.3,1831.6 L471.8,1829.5 L473.2,1827.5 L474.7,1825.5 L476.1,1823.4 L477.6,1821.4 L479.0,1819.4 L480.5,1817.3 L481.9,1815.3 L483.4,1813.3 L484.8,1811.2 L486.3,1809.2 L487.8,1807.2 L489.2,1805.2 L490.7,1803.1 L492.2,1801.1 L493.6,1799.1 L495.1,1797.1 L496.6,1795.0 L498.0,1793.0 L499.5,1791.0 L501.0,1789.0 L502.5,1787.0 L503.9,1785.0 L505.4,1782.9 L506.9,1780.9 L508.4,1778.9 L509.9,1776.9 L511.3,1774.9 L512.8,1772.9 L514.3,1770.9 L515.8,1768.9 L517.3,1766.9 L518.8,1764.9 L520.3,1762.9 L521.8,1760.9 L523.3,1758.8 L524.8,1756.8 L526.3,1754.8 L527.8,1752.8 L529.3,1750.9 L530.8,1748.9 L532.3,1746.9 L533.8,1744.9 L535.3,1742.9 L536.8,1740.9 L538.3,1738.9 L539.8,1736.9 L541.3,1734.9 L542.9,1732.9 L544.4,1730.9 L545.9,1728.9 L547.4,1727.0 L548.9,1725.0 L550.4,1723.0 L552.0,1721.0 L553.5,1719.0 L555.0,1717.0 L556.5,1715.1 L558.1,1713.1 L559.6,1711.1 L561.1,1709.1 L562.7,1707.1 L564.2,1705.2 L565.7,1703.2 L567.3,1701.2 L568.8,1699.2 L570.3,1697.3 L571.9,1695.3 L573.4,1693.3 L574.9,1691.4 L576.5,1689.4 L578.0,1687.4 L579.6,1685.5 L581.1,1683.5 L582.7,1681.5 L584.2,1679.6 L585.8,1677.6 L587.3,1675.6 L588.8,1673.7 L590.4,1671.7 L591.9,1669.8 L593.5,1667.8 L595.1,1665.8 L596.6,1663.9 L598.2,1661.9 L599.7,1660.0 L601.3,1658.0 L602.8,1656.1 L604.4,1654.1 L605.9,1652.2 L607.5,1650.2 L609.1,1648.2 L610.6,1646.3 L612.2,1644.3 L613.8,1642.4 L615.3,1640.5 L616.9,1638.5 L618.5,1636.6 L620.0,1634.6 L621.6,1632.7 L623.2,1630.7 L624.7,1628.8 L626.3,1626.8 L627.9,1624.9 L629.4,1623.0 L631.0,1621.0 L632.6,1619.1 L634.2,1617.1 L635.7,1615.2 L637.3,1613.3 L638.9,1611.3 L640.4,1609.4 L642.0,1607.5 L643.6,1605.5 L645.2,1603.6 L646.8,1601.7 L648.3,1599.7 L649.9,1597.8 L651.5,1595.9 L653.1,1593.9 L654.7,1592.0 L656.2,1590.1 L657.8,1588.2 L659.4,1586.2 L661.0,1584.3 L662.6,1582.4 L664.2,1580.5 L665.7,1578.5 L667.3,1576.6 L668.9,1574.7 L670.5,1572.8 L672.1,1570.8 L673.7,1568.9 L675.3,1567.0 L676.8,1565.1 L678.4,1563.2 L680.0,1561.3 L681.6,1559.3 L683.2,1557.4 L684.8,1555.5 L686.4,1553.6 L688.1,1551.7 L689.7,1549.9 L691.3,1548.0 L693.0,1546.1 L694.6,1544.2 L696.3,1542.4 L697.9,1540.5 L699.6,1538.7 L701.3,1536.8 L703.0,1535.0 L704.7,1533.1 L706.3,1531.3 L708.0,1529.5 L709.8,1527.7 L711.5,1525.8 L713.2,1524.0 L714.9,1522.2 L716.6,1520.4 L718.4,1518.6 L720.1,1516.8 L721.9,1515.1 L723.6,1513.3 L725.4,1511.5 L727.1,1509.7 L728.9,1508.0 L730.7,1506.2 L732.4,1504.5 L734.2,1502.7 L736.0,1501.0 L737.8,1499.2 L739.6,1497.5 L741.4,1495.7 L743.2,1494.0 L745.0,1492.3 L746.8,1490.6 L748.6,1488.9 L750.4,1487.1 L752.2,1485.4 L754.0,1483.7 L755.8,1482.0 L757.6,1480.3 L759.5,1478.6 L761.3,1476.9 L763.1,1475.2 L764.9,1473.6 L766.8,1471.9 L768.6,1470.2 L770.5,1468.5 L772.3,1466.9 L774.1,1465.2 L776.0,1463.5 L777.8,1461.9 L779.7,1460.2 L781.6,1458.6 L783.4,1456.9 L785.3,1455.3 L787.2,1453.6 L789.0,1452.0 L790.9,1450.3 L792.8,1448.7 L794.7,1447.1 L796.5,1445.5 L798.4,1443.8 L800.3,1442.2 L802.2,1440.6 L804.1,1439.0 L806.0,1437.4 L807.9,1435.8 L809.8,1434.1 L811.7,1432.5 L813.6,1430.9 L815.5,1429.3 L817.4,1427.7 L819.4,1426.2 L821.3,1424.6 L823.2,1423.0 L825.1,1421.4 L827.1,1419.8 L829.0,1418.2 L830.9,1416.7 L832.9,1415.1 L834.8,1413.5 L836.8,1411.9 L838.7,1410.4 L840.7,1408.8 L842.6,1407.2 L844.6,1405.7 L846.5,1404.1 L848.5,1402.6 L850.5,1401.0 L852.5,1399.5 L854.4,1397.9 L856.4,1396.4 L858.4,1394.9 L860.4,1393.4 L862.4,1391.8 L864.4,1390.3 L866.4,1388.8 L868.4,1387.3 L870.4,1385.9 L872.5,1384.4 L874.5,1382.9 L876.5,1381.5 L878.6,1380.0 L880.6,1378.6 L882.7,1377.2 L884.8,1375.8 L886.8,1374.4 L888.9,1373.0 L891.0,1371.7 L893.1,1370.3 L895.2,1369.0 L897.3,1367.6 L899.4,1366.3 L901.6,1365.1 L903.7,1363.8 L905.9,1362.5 L908.0,1361.3 L910.2,1360.1 L912.4,1358.9 L914.6,1357.7 L916.8,1356.6 L919.0,1355.4 L921.2,1354.3 L923.4,1353.2 L925.7,1352.1 L928.0,1351.1 L930.2,1350.0 L932.5,1349.0 L934.8,1348.0 L937.1,1347.0 L939.3,1346.0 L941.6,1345.0 L943.9,1343.9 L946.2,1342.9 L948.4,1341.8 L950.6,1340.7 L952.9,1339.6 L955.1,1338.4 L957.3,1337.3 L959.5,1336.1 L961.7,1335.0 L964.0,1333.9 L966.2,1333.0 L968.5,1332.0 L970.8,1331.1 L973.1,1330.3 L975.5,1329.5 L977.9,1328.7 L980.2,1327.9 L982.6,1327.1 L985.0,1326.3 L987.4,1325.4 L989.8,1324.5 L992.2,1323.5 L994.5,1322.7 L996.9,1322.0 L999.3,1321.7 L1001.7,1321.9 L1004.1,1322.5 L1006.5,1323.2 L1008.9,1323.6 L1011.2,1323.5 L1013.6,1322.9 L1016.0,1322.0 L1018.4,1321.1 L1020.8,1320.2 L1023.3,1319.5 L1025.7,1318.9 L1028.2,1318.6 L1030.6,1318.5 L1033.0,1318.7 L1035.5,1319.2 L1037.9,1319.9 L1040.3,1320.7 L1042.7,1321.5 L1045.2,1322.3 L1047.6,1323.1 L1050.0,1323.9 L1052.4,1324.8 L1054.6,1325.8 L1056.6,1327.1 L1058.5,1328.6 L1060.2,1330.3 L1061.9,1332.1 L1063.5,1334.0 L1065.0,1336.0 L1066.5,1338.1 L1068.1,1340.1 L1069.7,1342.2 L1071.3,1344.1 L1073.0,1346.0 L1074.6,1347.9 L1076.3,1349.9 L1077.8,1351.8 L1079.3,1353.8 L1080.7,1355.9 L1082.1,1357.9 L1083.3,1360.1 L1084.5,1362.3 L1085.6,1364.5 L1086.7,1366.7 L1087.6,1369.0 L1088.6,1371.3 L1089.4,1373.6 L1090.2,1376.0 L1091.0,1378.4 L1091.7,1380.8 L1092.3,1383.2 L1093.0,1385.6 L1093.5,1388.1 L1094.1,1390.5 L1094.6,1393.0 L1095.1,1395.4 L1095.5,1397.9 L1095.9,1400.3 L1096.3,1402.8 L1096.7,1405.3 L1097.0,1407.7 L1097.3,1410.2 L1097.6,1412.7 L1097.9,1415.2 L1098.1,1417.7 L1098.3,1420.2 L1098.5,1422.6 L1098.7,1425.1 L1098.9,1427.6 L1099.0,1430.1 L1099.1,1432.6 L1099.3,1435.1 L1099.4,1437.6 L1099.4,1440.1 L1099.5,1442.6 L1099.6,1445.1 L1099.6,1447.6 L1099.7,1450.1 L1099.7,1452.6 L1099.8,1455.1 L1099.8,1457.6 L1099.8,1460.2 L1099.8,1462.7 L1099.8,1465.2 L1099.9,1467.7 L1099.9,1470.2 L1099.9,1472.7 L1099.9,1475.2 L1099.9,1477.7 L1100.0,1480.2 L1100.0,1482.6 L1100.0,1485.1 L1100.1,1487.6 L1100.1,1490.1 L1100.2,1492.6" stroke="#ee1111" stroke-width="3.2" fill="none" stroke-linejoin="round"/>
<path d="M212.6,2209.0 L213.9,2206.9 L215.2,2204.8 L216.5,2202.6 L217.8,2200.5 L219.1,2198.4 L220.4,2196.2 L221.7,2194.1 L223.0,2192.0 L224.3,2189.8 L225.6,2187.7 L226.9,2185.6 L228.2,2183.4 L229.5,2181.3 L230.7,2179.2 L232.0,2177.0 L233.3,2174.9 L234.6,2172.8 L235.9,2170.6 L237.2,2168.5 L238.4,2166.3 L239.7,2164.2 L241.0,2162.0 L242.3,2159.9 L243.5,2157.7 L244.8,2155.6 L246.1,2153.5 L247.3,2151.3 L248.6,2149.2 L249.9,2147.0 L251.1,2144.9 L252.4,2142.7 L253.7,2140.5 L254.9,2138.4 L256.2,2136.2 L257.4,2134.1 L258.7,2131.9 L260.0,2129.8 L261.2,2127.6 L262.5,2125.5 L263.7,2123.3 L265.0,2121.2 L266.2,2119.0 L267.5,2116.8 L268.7,2114.7 L270.0,2112.5 L271.3,2110.4 L272.5,2108.2 L273.8,2106.0 L275.0,2103.9 L276.3,2101.7 L277.5,2099.6 L278.8,2097.4 L280.0,2095.2 L281.2,2093.1 L282.5,2090.9 L283.7,2088.7 L285.0,2086.6 L286.2,2084.4 L287.5,2082.3 L288.7,2080.1 L290.0,2077.9 L291.2,2075.8 L292.5,2073.6 L293.7,2071.4 L294.9,2069.3 L296.2,2067.1 L297.4,2064.9 L298.7,2062.8 L299.9,2060.6 L301.2,2058.4 L302.4,2056.3 L303.6,2054.1 L304.9,2051.9 L306.1,2049.8 L307.4,2047.6 L308.6,2045.4 L309.9,2043.3 L311.1,2041.1 L312.4,2039.0 L313.6,2036.8 L314.8,2034.6 L316.1,2032.5 L317.3,2030.3 L318.6,2028.1 L319.8,2026.0 L321.1,2023.8 L322.3,2021.6 L323.6,2019.5 L324.8,2017.3 L326.1,2015.2 L327.3,2013.0 L328.6,2010.8 L329.8,2008.7 L331.1,2006.5 L332.3,2004.3 L333.6,2002.2 L334.8,2000.0 L336.1,1997.9 L337.3,1995.7 L338.6,1993.5 L339.8,1991.4 L341.1,1989.2 L342.3,1987.1 L343.6,1984.9 L344.9,1982.8 L346.1,1980.6 L347.4,1978.4 L348.6,1976.3 L349.9,1974.1 L351.2,1972.0 L352.4,1969.8 L353.7,1967.7 L355.0,1965.5 L356.2,1963.4 L357.5,1961.2 L358.8,1959.1 L360.0,1956.9 L361.3,1954.8 L362.6,1952.6 L363.8,1950.5 L365.1,1948.3 L366.4,1946.2 L367.7,1944.1 L369.0,1941.9 L370.2,1939.8 L371.5,1937.6 L372.8,1935.5 L374.1,1933.4 L375.4,1931.2 L376.7,1929.1 L378.0,1926.9 L379.2,1924.8 L380.5,1922.7 L381.8,1920.5 L383.1,1918.4 L384.4,1916.3 L385.7,1914.1 L387.0,1912.0 L388.3,1909.9 L389.6,1907.8 L390.9,1905.6 L392.2,1903.5 L393.6,1901.4 L394.9,1899.3 L396.2,1897.1 L397.5,1895.0 L398.8,1892.9 L400.1,1890.8 L401.5,1888.7 L402.8,1886.6 L404.1,1884.4 L405.4,1882.3 L406.8,1880.2 L408.1,1878.1 L409.4,1876.0 L410.8,1873.9 L412.1,1871.8 L413.4,1869.7 L414.8,1867.6 L416.1,1865.5 L417.5,1863.4 L418.8,1861.3 L420.2,1859.2 L421.5,1857.1 L422.9,1855.0 L424.2,1852.9 L425.6,1850.8 L426.9,1848.7 L428.3,1846.6 L429.6,1844.5 L431.0,1842.4 L432.4,1840.3 L433.7,1838.2 L435.1,1836.2 L436.5,1834.1 L437.8,1832.0 L439.2,1829.9 L440.6,1827.8 L442.0,1825.7 L443.3,1823.7 L444.7,1821.6 L446.1,1819.5 L447.5,1817.4 L448.9,1815.3 L450.2,1813.3 L451.6,1811.2 L453.0,1809.1 L454.4,1807.0 L455.8,1805.0 L457.2,1802.9 L458.6,1800.8 L460.0,1798.8 L461.4,1796.7 L462.8,1794.6 L464.2,1792.6 L465.6,1790.5 L467.0,1788.4 L468.4,1786.4 L469.8,1784.3 L471.2,1782.3 L472.6,1780.2 L474.0,1778.1 L475.4,1776.1 L476.8,1774.0 L478.2,1772.0 L479.7,1769.9 L481.1,1767.9 L482.5,1765.8 L483.9,1763.7 L485.3,1761.7 L486.8,1759.6 L488.2,1757.6 L489.6,1755.5 L491.0,1753.5 L492.5,1751.4 L493.9,1749.4 L495.3,1747.4 L496.7,1745.3 L498.2,1743.3 L499.6,1741.2 L501.0,1739.2 L502.5,1737.1 L503.9,1735.1 L505.4,1733.1 L506.8,1731.0 L508.2,1729.0 L509.7,1726.9 L511.1,1724.9 L512.6,1722.9 L514.0,1720.8 L515.4,1718.8 L516.9,1716.8 L518.3,1714.7 L519.8,1712.7 L521.2,1710.6 L522.7,1708.6 L524.1,1706.6 L525.6,1704.6 L527.0,1702.5 L528.5,1700.5 L529.9,1698.5 L531.4,1696.4 L532.9,1694.4 L534.3,1692.4 L535.8,1690.4 L537.2,1688.3 L538.7,1686.3 L540.2,1684.3 L541.6,1682.3 L543.1,1680.2 L544.5,1678.2 L546.0,1676.2 L547.5,1674.2 L548.9,1672.1 L550.4,1670.1 L551.9,1668.1 L553.3,1666.1 L554.8,1664.1 L556.3,1662.1 L557.8,1660.0 L559.2,1658.0 L560.7,1656.0 L562.2,1654.0 L563.7,1652.0 L565.1,1650.0 L566.6,1648.0 L568.1,1645.9 L569.6,1643.9 L571.1,1641.9 L572.6,1639.9 L574.0,1637.9 L575.5,1635.9 L577.0,1633.9 L578.5,1631.9 L580.0,1629.9 L581.5,1627.9 L583.0,1625.9 L584.5,1623.9 L586.0,1621.9 L587.5,1620.0 L589.0,1618.0 L590.5,1616.0 L592.1,1614.0 L593.6,1612.0 L595.1,1610.0 L596.6,1608.1 L598.1,1606.1 L599.7,1604.1 L601.2,1602.1 L602.7,1600.2 L604.3,1598.2 L605.8,1596.2 L607.3,1594.3 L608.9,1592.3 L610.4,1590.4 L612.0,1588.4 L613.5,1586.4 L615.1,1584.5 L616.6,1582.5 L618.2,1580.6 L619.8,1578.7 L621.3,1576.7 L622.9,1574.8 L624.5,1572.8 L626.0,1570.9 L627.6,1569.0 L629.2,1567.1 L630.8,1565.1 L632.4,1563.2 L634.0,1561.3 L635.6,1559.4 L637.2,1557.5 L638.8,1555.6 L640.4,1553.7 L642.0,1551.8 L643.6,1549.9 L645.2,1548.0 L646.9,1546.1 L648.5,1544.2 L650.1,1542.3 L651.8,1540.4 L653.4,1538.6 L655.1,1536.7 L656.7,1534.8 L658.4,1532.9 L660.0,1531.1 L661.7,1529.2 L663.4,1527.4 L665.0,1525.5 L666.7,1523.7 L668.4,1521.8 L670.1,1520.0 L671.7,1518.1 L673.4,1516.3 L675.1,1514.5 L676.8,1512.7 L678.5,1510.8 L680.2,1509.0 L682.0,1507.2 L683.7,1505.4 L685.4,1503.6 L687.1,1501.8 L688.8,1500.0 L690.6,1498.2 L692.3,1496.4 L694.0,1494.6 L695.8,1492.8 L697.5,1491.0 L699.3,1489.3 L701.0,1487.5 L702.8,1485.7 L704.6,1483.9 L706.3,1482.2 L708.1,1480.4 L709.9,1478.7 L711.7,1476.9 L713.4,1475.2 L715.2,1473.4 L717.0,1471.7 L718.8,1470.0 L720.6,1468.3 L722.4,1466.5 L724.2,1464.8 L726.1,1463.1 L727.9,1461.4 L729.7,1459.7 L731.5,1458.0 L733.3,1456.3 L735.2,1454.6 L737.0,1452.9 L738.9,1451.2 L740.7,1449.5 L742.5,1447.9 L744.4,1446.2 L746.3,1444.5 L748.1,1442.9 L750.0,1441.2 L751.9,1439.5 L753.7,1437.9 L755.6,1436.3 L757.5,1434.6 L759.4,1433.0 L761.3,1431.3 L763.2,1429.7 L765.1,1428.1 L767.0,1426.5 L768.9,1424.9 L770.8,1423.3 L772.7,1421.7 L774.6,1420.1 L776.5,1418.5 L778.5,1416.9 L780.4,1415.3 L782.3,1413.7 L784.3,1412.2 L786.2,1410.6 L788.2,1409.1 L790.2,1407.5 L792.1,1406.0 L794.1,1404.5 L796.1,1402.9 L798.1,1401.4 L800.0,1399.9 L802.0,1398.4 L804.0,1397.0 L806.1,1395.5 L808.1,1394.0 L810.1,1392.6 L812.1,1391.1 L814.2,1389.7 L816.2,1388.3 L818.3,1386.9 L820.3,1385.5 L822.4,1384.1 L824.5,1382.7 L826.6,1381.4 L828.6,1380.0 L830.7,1378.7 L832.9,1377.4 L835.0,1376.0 L837.1,1374.8 L839.2,1373.5 L841.4,1372.2 L843.5,1371.0 L845.7,1369.7 L847.9,1368.5 L850.1,1367.3 L852.3,1366.1 L854.5,1364.9 L856.7,1363.8 L858.9,1362.7 L861.1,1361.5 L863.4,1360.4 L865.6,1359.3 L867.9,1358.3 L870.2,1357.2 L872.5,1356.2 L874.8,1355.2 L877.1,1354.2 L879.4,1353.2 L881.7,1352.3 L884.1,1351.3 L886.4,1350.4 L888.8,1349.6 L891.2,1348.7 L893.6,1348.0 L896.1,1347.3 L898.6,1346.7 L901.1,1346.2 L903.6,1345.8 L906.1,1345.5 L908.7,1345.4 L911.2,1345.4 L913.7,1345.5 L916.2,1345.8 L918.6,1346.3 L920.9,1347.0 L923.2,1347.8 L925.4,1348.9 L927.5,1350.0 L929.4,1351.4 L931.3,1352.9 L932.9,1354.6 L934.5,1356.4 L935.9,1358.3 L937.1,1360.4 L938.1,1362.6 L939.1,1364.9 L939.9,1367.2 L940.6,1369.7 L941.2,1372.2 L941.7,1374.7 L942.1,1377.3 L942.4,1379.9 L942.7,1382.5 L942.9,1385.1 L943.1,1387.7 L943.2,1390.3 L943.3,1392.8 L943.3,1395.3 L943.4,1397.8 L943.4,1400.3 L943.3,1402.8 L943.3,1405.3 L943.3,1407.8 L943.3,1410.2 L943.3,1412.7 L943.3,1415.1 L943.3,1417.6 L943.4,1420.1 L943.5,1422.5 L943.6,1425.0 L943.8,1427.5 L944.0,1430.0" stroke="#22ee22" stroke-width="3.2" fill="none" stroke-linejoin="round"/>
<path d="M212.6,2209.0 L213.8,2206.8 L215.0,2204.6 L216.1,2202.4 L217.3,2200.2 L218.5,2198.0 L219.7,2195.8 L220.8,2193.6 L222.0,2191.4 L223.2,2189.2 L224.4,2187.0 L225.6,2184.8 L226.7,2182.6 L227.9,2180.4 L229.1,2178.2 L230.3,2176.0 L231.4,2173.8 L232.6,2171.6 L233.8,2169.4 L235.0,2167.2 L236.2,2165.0 L237.3,2162.8 L238.5,2160.6 L239.7,2158.4 L240.9,2156.2 L242.1,2154.0 L243.2,2151.8 L244.4,2149.6 L245.6,2147.4 L246.8,2145.2 L248.0,2143.0 L249.2,2140.8 L250.3,2138.6 L251.5,2136.4 L252.7,2134.2 L253.9,2132.0 L255.1,2129.8 L256.3,2127.6 L257.4,2125.4 L258.6,2123.2 L259.8,2121.0 L261.0,2118.8 L262.2,2116.6 L263.4,2114.4 L264.6,2112.2 L265.7,2110.0 L266.9,2107.8 L268.1,2105.6 L269.3,2103.4 L270.5,2101.2 L271.7,2099.0 L272.9,2096.8 L274.1,2094.6 L275.3,2092.5 L276.4,2090.3 L277.6,2088.1 L278.8,2085.9 L280.0,2083.7 L281.2,2081.5 L282.4,2079.3 L283.6,2077.1 L284.8,2074.9 L286.0,2072.7 L287.2,2070.5 L288.4,2068.3 L289.6,2066.2 L290.8,2064.0 L292.0,2061.8 L293.1,2059.6 L294.3,2057.4 L295.5,2055.2 L296.7,2053.0 L297.9,2050.8 L299.1,2048.6 L300.3,2046.5 L301.5,2044.3 L302.7,2042.1 L303.9,2039.9 L305.1,2037.7 L306.3,2035.5 L307.5,2033.3 L308.7,2031.1 L309.9,2029.0 L311.1,2026.8 L312.3,2024.6 L313.5,2022.4 L314.7,2020.2 L315.9,2018.0 L317.1,2015.8 L318.4,2013.7 L319.6,2011.5 L320.8,2009.3 L322.0,2007.1 L323.2,2004.9 L324.4,2002.7 L325.6,2000.6 L326.8,1998.4 L328.0,1996.2 L329.2,1994.0 L330.4,1991.8 L331.6,1989.7 L332.9,1987.5 L334.1,1985.3 L335.3,1983.1 L336.5,1980.9 L337.7,1978.8 L338.9,1976.6 L340.1,1974.4 L341.3,1972.2 L342.6,1970.1 L343.8,1967.9 L345.0,1965.7 L346.2,1963.5 L347.4,1961.3 L348.6,1959.2 L349.9,1957.0 L351.1,1954.8 L352.3,1952.6 L353.5,1950.5 L354.7,1948.3 L356.0,1946.1 L357.2,1943.9 L358.4,1941.8 L359.6,1939.6 L360.9,1937.4 L362.1,1935.3 L363.3,1933.1 L364.5,1930.9 L365.8,1928.7 L367.0,1926.6 L368.2,1924.4 L369.5,1922.2 L370.7,1920.1 L371.9,1917.9 L373.1,1915.7 L374.4,1913.6 L375.6,1911.4 L376.8,1909.2 L378.1,1907.1 L379.3,1904.9 L380.5,1902.7 L381.8,1900.6 L383.0,1898.4 L384.3,1896.2 L385.5,1894.1 L386.7,1891.9 L388.0,1889.7 L389.2,1887.6 L390.5,1885.4 L391.7,1883.2 L392.9,1881.1 L394.2,1878.9 L395.4,1876.8 L396.7,1874.6 L397.9,1872.4 L399.2,1870.3 L400.4,1868.1 L401.7,1866.0 L402.9,1863.8 L404.1,1861.6 L405.4,1859.5 L406.6,1857.3 L407.9,1855.2 L409.2,1853.0 L410.4,1850.9 L411.7,1848.7 L412.9,1846.5 L414.2,1844.4 L415.4,1842.2 L416.7,1840.1 L417.9,1837.9 L419.2,1835.8 L420.5,1833.6 L421.7,1831.5 L423.0,1829.3 L424.2,1827.2 L425.5,1825.0 L426.8,1822.9 L428.0,1820.7 L429.3,1818.6 L430.6,1816.4 L431.8,1814.3 L433.1,1812.1 L434.4,1810.0 L435.6,1807.8 L436.9,1805.7 L438.2,1803.5 L439.4,1801.4 L440.7,1799.2 L442.0,1797.1 L443.3,1794.9 L444.5,1792.8 L445.8,1790.6 L447.1,1788.5 L448.4,1786.4 L449.7,1784.2 L450.9,1782.1 L452.2,1779.9 L453.5,1777.8 L454.8,1775.7 L456.1,1773.5 L457.3,1771.4 L458.6,1769.2 L459.9,1767.1 L461.2,1765.0 L462.5,1762.8 L463.8,1760.7 L465.1,1758.5 L466.4,1756.4 L467.7,1754.3 L468.9,1752.1 L470.2,1750.0 L471.5,1747.9 L472.8,1745.7 L474.1,1743.6 L475.4,1741.5 L476.7,1739.3 L478.0,1737.2 L479.3,1735.1 L480.6,1732.9 L481.9,1730.8 L483.2,1728.7 L484.5,1726.6 L485.8,1724.4 L487.2,1722.3 L488.5,1720.2 L489.8,1718.1 L491.1,1715.9 L492.4,1713.8 L493.7,1711.7 L495.0,1709.5 L496.3,1707.4 L497.6,1705.3 L499.0,1703.2 L500.3,1701.1 L501.6,1698.9 L502.9,1696.8 L504.2,1694.7 L505.6,1692.6 L506.9,1690.5 L508.2,1688.3 L509.5,1686.2 L510.9,1684.1 L512.2,1682.0 L513.5,1679.9 L514.8,1677.7 L516.2,1675.6 L517.5,1673.5 L518.8,1671.4 L520.2,1669.3 L521.5,1667.2 L522.8,1665.1 L524.2,1662.9 L525.5,1660.8 L526.9,1658.7 L528.2,1656.6 L529.5,1654.5 L530.9,1652.4 L532.2,1650.3 L533.6,1648.2 L534.9,1646.1 L536.3,1644.0 L537.6,1641.9 L539.0,1639.8 L540.3,1637.7 L541.7,1635.6 L543.1,1633.5 L544.4,1631.4 L545.8,1629.3 L547.1,1627.2 L548.5,1625.1 L549.9,1623.0 L551.3,1620.9 L552.6,1618.8 L554.0,1616.8 L555.4,1614.7 L556.8,1612.6 L558.2,1610.5 L559.5,1608.4 L560.9,1606.4 L562.3,1604.3 L563.7,1602.2 L565.1,1600.1 L566.5,1598.1 L567.9,1596.0 L569.3,1593.9 L570.7,1591.9 L572.1,1589.8 L573.5,1587.7 L574.9,1585.7 L576.4,1583.6 L577.8,1581.6 L579.2,1579.5 L580.6,1577.5 L582.0,1575.4 L583.5,1573.4 L584.9,1571.3 L586.3,1569.3 L587.8,1567.3 L589.2,1565.2 L590.7,1563.2 L592.1,1561.2 L593.6,1559.1 L595.0,1557.1 L596.5,1555.1 L598.0,1553.1 L599.4,1551.0 L600.9,1549.0 L602.4,1547.0 L603.8,1545.0 L605.3,1543.0 L606.8,1541.0 L608.3,1539.0 L609.8,1537.0 L611.3,1535.0 L612.8,1533.0 L614.3,1531.0 L615.8,1529.0 L617.3,1527.1 L618.8,1525.1 L620.3,1523.1 L621.8,1521.1 L623.4,1519.2 L624.9,1517.2 L626.4,1515.2 L628.0,1513.3 L629.5,1511.3 L631.1,1509.4 L632.6,1507.4 L634.2,1505.5 L635.7,1503.5 L637.3,1501.6 L638.9,1499.6 L640.4,1497.7 L642.0,1495.8 L643.6,1493.9 L645.2,1491.9 L646.8,1490.0 L648.4,1488.1 L650.0,1486.2 L651.6,1484.3 L653.2,1482.4 L654.8,1480.5 L656.4,1478.6 L658.0,1476.7 L659.7,1474.8 L661.3,1472.9 L662.9,1471.1 L664.6,1469.2 L666.2,1467.3 L667.9,1465.5 L669.5,1463.6 L671.2,1461.7 L672.9,1459.9 L674.5,1458.0 L676.2,1456.2 L677.9,1454.4 L679.6,1452.5 L681.3,1450.7 L683.0,1448.9 L684.7,1447.1 L686.4,1445.2 L688.1,1443.4 L689.9,1441.6 L691.6,1439.8 L693.3,1438.0 L695.1,1436.2 L696.8,1434.4 L698.6,1432.7 L700.3,1430.9 L702.1,1429.1 L703.9,1427.3 L705.6,1425.6 L707.4,1423.8 L709.2,1422.1 L711.0,1420.3 L712.8,1418.6 L714.6,1416.9 L716.4,1415.1 L718.2,1413.4 L720.1,1411.7 L721.9,1410.0 L723.8,1408.3 L725.6,1406.7 L727.5,1405.0 L729.4,1403.4 L731.3,1401.8 L733.2,1400.2 L735.2,1398.7 L737.1,1397.1 L739.1,1395.6 L741.0,1394.1 L743.0,1392.7 L745.1,1391.3 L747.1,1389.9 L749.2,1388.5 L751.2,1387.2 L753.3,1385.9 L755.5,1384.6 L757.6,1383.4 L759.8,1382.3 L762.0,1381.1 L764.2,1380.0 L766.4,1378.9 L768.7,1377.8 L770.9,1376.7 L773.2,1375.7 L775.5,1374.6 L777.8,1373.5 L780.2,1372.5 L782.5,1371.4 L784.9,1370.3 L787.3,1369.2 L789.7,1368.2 L792.1,1367.2 L794.5,1366.3 L796.9,1365.7 L799.3,1365.2 L801.8,1365.0 L804.2,1365.2 L806.6,1365.5 L808.9,1366.2 L811.1,1367.2 L813.2,1368.4 L815.0,1369.8 L816.6,1371.6 L818.0,1373.5 L819.1,1375.7 L820.0,1378.1 L820.7,1380.5 L821.3,1383.0 L821.8,1385.6 L822.2,1388.1 L822.6,1390.6 L822.9,1393.1 L823.1,1395.6 L823.3,1398.1 L823.5,1400.6 L823.6,1403.1 L823.7,1405.6 L823.8,1408.1 L823.8,1410.6 L823.8,1413.1 L823.8,1415.6 L823.8,1418.1 L823.8,1420.6 L823.7,1423.1 L823.7,1425.6 L823.7,1428.1 L823.7,1430.6 L823.7,1433.0 L823.8,1435.5 L823.9,1438.0 L824.0,1440.5 L824.1,1443.0" stroke="#1414e6" stroke-width="3.2" fill="none" stroke-linejoin="round"/>
</svg>
</body></html>
